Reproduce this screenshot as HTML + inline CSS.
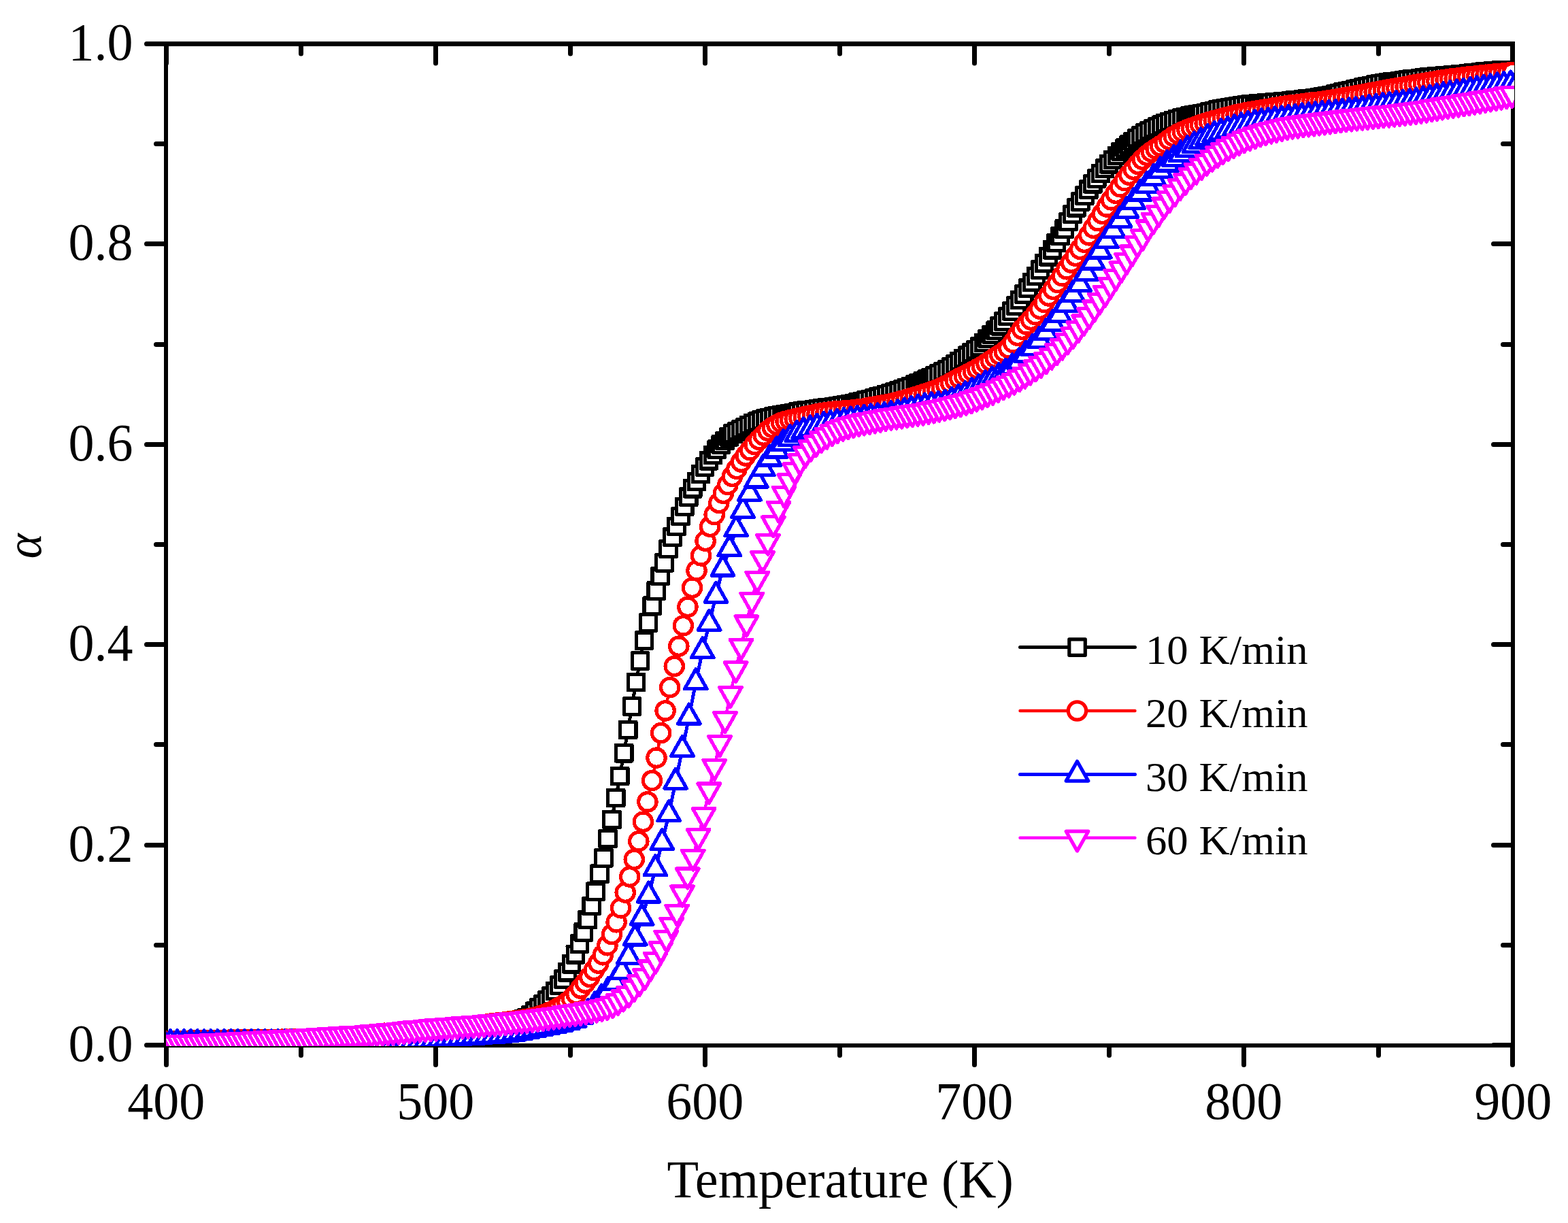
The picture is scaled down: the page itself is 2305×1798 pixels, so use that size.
<!DOCTYPE html>
<html lang="en"><head><meta charset="utf-8"><title>Conversion α versus Temperature (K)</title>
<style>html,body{margin:0;padding:0;background:#fff}body{width:2305px;height:1798px;overflow:hidden}svg{display:block}text{font-family:"Liberation Serif","DejaVu Serif",serif;fill:#000}</style></head><body>
<svg width="2305" height="1798" viewBox="0 0 2305 1798">
<rect width="2305" height="1798" fill="#fff"/>
<g fill="#000" shape-rendering="crispEdges">
<rect x="241" y="61" width="1986" height="7"/>
<rect x="241" y="1534" width="1986" height="6"/>
<rect x="241" y="61" width="6" height="1479"/>
<rect x="2221" y="61" width="6" height="1479"/>
</g>
<g stroke="#000" stroke-width="7" stroke-linecap="round" fill="none">
<path d="M244.5 1537.5v28M244.5 64.5v28.5M442.5 1537.5v14M442.5 64.5v14.5M640.5 1537.5v28M640.5 64.5v28.5M838.5 1537.5v14M838.5 64.5v14.5M1036.5 1537.5v28M1036.5 64.5v28.5M1234.5 1537.5v14M1234.5 64.5v14.5M1432.5 1537.5v28M1432.5 64.5v28.5M1630.5 1537.5v14M1630.5 64.5v14.5M1828.5 1537.5v28M1828.5 64.5v28.5M2026.5 1537.5v14M2026.5 64.5v14.5M2223.5 1537.5v28M2223.5 64.5v28.5M243.5 1536.5h-28M2223.5 1536.5h-28M243.5 1389.5h-14M2223.5 1389.5h-14M243.5 1242.5h-28M2223.5 1242.5h-28M243.5 1094.5h-14M2223.5 1094.5h-14M243.5 947.5h-28M2223.5 947.5h-28M243.5 800.5h-14M2223.5 800.5h-14M243.5 653.5h-28M2223.5 653.5h-28M243.5 506.5h-14M2223.5 506.5h-14M243.5 358.5h-28M2223.5 358.5h-28M243.5 211.5h-14M2223.5 211.5h-14M243.5 64.5h-28M2223.5 64.5h-28"/>
</g>
<svg x="244" y="62" width="1982" height="1476" viewBox="244 62 1982 1476" overflow="hidden" shape-rendering="crispEdges">
<g stroke="#000000" stroke-width="5.2" stroke-linejoin="round" fill="#fff">
<polyline fill="none" stroke-width="5" points="222.2,1536.1 228.1,1536 234.1,1535.9 240,1535.9 245.9,1535.8 251.9,1535.7 257.8,1535.6 263.8,1535.5 269.7,1535.4 275.6,1535.2 281.6,1535.1 287.5,1535 293.5,1534.9 299.4,1534.7 305.3,1534.6 311.3,1534.5 317.2,1534.3 323.2,1534.2 329.1,1534 335,1533.9 341,1533.7 346.9,1533.5 352.9,1533.4 358.8,1533.2 364.7,1533 370.7,1532.9 376.6,1532.7 382.6,1532.5 388.5,1532.3 394.4,1532.2 400.4,1532 406.3,1531.8 412.3,1531.6 418.2,1531.4 424.1,1531.2 430.1,1531 436,1530.8 442,1530.6 447.9,1530.4 453.8,1530.2 459.8,1530 465.7,1529.8 471.7,1529.5 477.6,1529.3 483.5,1529 489.5,1528.8 495.4,1528.5 501.4,1528.3 507.3,1528 513.2,1527.7 519.2,1527.4 525.1,1527.1 531.1,1526.7 537,1526.4 542.9,1526.1 548.9,1525.7 554.8,1525.3 560.8,1524.9 566.7,1524.5 572.6,1524 578.6,1523.4 584.5,1522.8 590.5,1522.1 596.4,1521.4 602.3,1520.6 608.3,1519.9 614.2,1519.1 620.2,1518.4 626.1,1517.6 632,1516.9 638,1516.2 643.9,1515.6 649.9,1515 655.8,1514.5 661.7,1514 667.7,1513.6 673.6,1513.1 679.6,1512.7 685.5,1512.3 691.4,1511.8 697.4,1511.3 703.3,1510.7 709.3,1510.1 715.2,1509.4 721.1,1508.7 727.1,1507.9 733,1507.1 739,1506.2 744.9,1505.1 750.8,1503.8 756.8,1502.4 762.7,1500.7 768.7,1498.7 774.6,1496.1 780.5,1492.1 786.5,1486.8 792.4,1481.5 798.4,1476 804.3,1470.4 810.2,1464.2 816.2,1456.9 822.1,1448.5 828.1,1439.4 834,1429.3 839.9,1417.2 845.9,1403.2 851.8,1387.7 857.8,1370.3 863.7,1352 869.6,1331.9 875.6,1310.7 881.5,1284.7 887.5,1261.3 893.4,1232.9 899.3,1205 905.3,1173 911.2,1141 917.2,1107.1 923.1,1072.9 929,1038.3 935,1002.9 940.9,971.5 946.9,941.7 952.8,915.4 958.7,890.5 964.7,868.6 970.6,846.9 976.6,827.3 982.5,806.9 988.4,789.6 994.4,773.8 1000.3,759 1006.3,744.8 1012.2,730.7 1018.1,718.3 1024.1,707.8 1030,697.1 1036,686.4 1041.9,677.2 1047.8,669 1053.8,660.7 1059.7,653.5 1065.7,647.9 1071.6,642.3 1077.5,637.5 1083.5,634.2 1089.4,631.3 1095.4,628 1101.3,624.8 1107.2,622.1 1113.2,619.7 1119.1,617.6 1125.1,615.7 1131,614 1136.9,612.6 1142.9,611.4 1148.8,610.2 1154.8,609.1 1160.7,607.9 1166.6,606.8 1172.6,605.7 1178.5,604.7 1184.5,603.8 1190.4,602.9 1196.3,602.1 1202.3,601.4 1208.2,600.6 1214.2,599.8 1220.1,598.9 1226,598.1 1232,597.2 1237.9,596.3 1243.9,595.3 1249.8,594.1 1255.7,592.8 1261.7,591.5 1267.6,590 1273.6,588.5 1279.5,587 1285.4,585.4 1291.4,583.7 1297.3,581.9 1303.3,580.2 1309.2,578.5 1315.1,576.7 1321.1,574.8 1327,572.7 1333,570.4 1338.9,568 1344.8,565.5 1350.8,563 1356.7,560.3 1362.7,557.6 1368.6,554.8 1374.5,552 1380.5,549.2 1386.4,546.3 1392.4,543.1 1398.3,539.4 1404.2,535.3 1410.2,531.1 1416.1,526.8 1422.1,522.8 1428,518.7 1433.9,514.4 1439.9,509.7 1445.8,504 1451.8,497.9 1457.7,491.9 1463.6,485.6 1469.6,479.2 1475.5,472.4 1481.5,465 1487.4,457.3 1493.3,449.4 1499.3,441.1 1505.2,432.4 1511.2,423.6 1517.1,415.1 1523,406.1 1529,396.5 1534.9,386.8 1540.9,377.1 1546.8,367.2 1552.7,357 1558.7,346.8 1564.6,336.6 1570.6,326.1 1576.5,315.1 1582.4,305.2 1588.4,296.4 1594.3,287.6 1600.3,278.6 1606.2,270.2 1612.1,262.4 1618.1,255 1624,247.7 1630,241.1 1635.9,235 1641.8,229 1647.8,222.9 1653.7,217.5 1659.7,212.8 1665.6,208.1 1671.5,203.2 1677.5,199 1683.4,195.5 1689.4,192.2 1695.3,189.3 1701.2,186.5 1707.2,183.7 1713.1,181.1 1719.1,178.9 1725,176.9 1730.9,175.1 1736.9,173.5 1742.8,172 1748.8,170.7 1754.7,169.5 1760.6,168.3 1766.6,167.2 1772.5,165.9 1778.5,164.5 1784.4,162.9 1790.3,161.5 1796.3,160.1 1802.2,159 1808.2,158 1814.1,157 1820,156.1 1826,155.3 1831.9,154.5 1837.9,153.8 1843.8,153.1 1849.7,152.4 1855.7,151.9 1861.6,151.3 1867.6,150.8 1873.5,150.4 1879.4,149.9 1885.4,149.4 1891.3,148.9 1897.3,148.3 1903.2,147.7 1909.1,147.1 1915.1,146.4 1921,145.7 1927,145 1932.9,144.3 1938.8,143.4 1944.8,142.4 1950.7,141.3 1956.7,140 1962.6,138.6 1968.5,137.2 1974.5,135.7 1980.4,134.2 1986.4,132.8 1992.3,131.4 1998.2,130 2004.2,128.6 2010.1,127.2 2016.1,125.8 2022,124.6 2027.9,123.5 2033.9,122.5 2039.8,121.6 2045.8,120.8 2051.7,119.9 2057.6,119.1 2063.6,118.3 2069.5,117.5 2075.5,116.7 2081.4,115.9 2087.3,115.1 2093.3,114.4 2099.2,113.7 2105.2,113.1 2111.1,112.5 2117,111.9 2123,111.4 2128.9,110.9 2134.9,110.4 2140.8,109.9 2146.7,109.4 2152.7,108.9 2158.6,108.3 2164.6,107.6 2170.5,106.9 2176.4,106.3 2182.4,105.6 2188.3,105 2194.3,104.5 2200.2,104 2206.1,103.7 2212.1,103.4 2218,103.1 2224,102.8"/>
<rect x="210.4" y="1524.3" width="23.5" height="23.5"/>
<rect x="216.4" y="1524.3" width="23.5" height="23.5"/>
<rect x="222.3" y="1524.2" width="23.5" height="23.5"/>
<rect x="228.2" y="1524.1" width="23.5" height="23.5"/>
<rect x="234.2" y="1524" width="23.5" height="23.5"/>
<rect x="240.1" y="1523.9" width="23.5" height="23.5"/>
<rect x="246.1" y="1523.8" width="23.5" height="23.5"/>
<rect x="252" y="1523.7" width="23.5" height="23.5"/>
<rect x="258" y="1523.6" width="23.5" height="23.5"/>
<rect x="263.9" y="1523.5" width="23.5" height="23.5"/>
<rect x="269.8" y="1523.4" width="23.5" height="23.5"/>
<rect x="275.8" y="1523.3" width="23.5" height="23.5"/>
<rect x="281.7" y="1523.1" width="23.5" height="23.5"/>
<rect x="287.6" y="1523" width="23.5" height="23.5"/>
<rect x="293.6" y="1522.9" width="23.5" height="23.5"/>
<rect x="299.5" y="1522.7" width="23.5" height="23.5"/>
<rect x="305.5" y="1522.6" width="23.5" height="23.5"/>
<rect x="311.4" y="1522.4" width="23.5" height="23.5"/>
<rect x="317.4" y="1522.3" width="23.5" height="23.5"/>
<rect x="323.3" y="1522.1" width="23.5" height="23.5"/>
<rect x="329.2" y="1522" width="23.5" height="23.5"/>
<rect x="335.2" y="1521.8" width="23.5" height="23.5"/>
<rect x="341.1" y="1521.6" width="23.5" height="23.5"/>
<rect x="347.1" y="1521.5" width="23.5" height="23.5"/>
<rect x="353" y="1521.3" width="23.5" height="23.5"/>
<rect x="358.9" y="1521.1" width="23.5" height="23.5"/>
<rect x="364.9" y="1521" width="23.5" height="23.5"/>
<rect x="370.8" y="1520.8" width="23.5" height="23.5"/>
<rect x="376.8" y="1520.6" width="23.5" height="23.5"/>
<rect x="382.7" y="1520.4" width="23.5" height="23.5"/>
<rect x="388.6" y="1520.2" width="23.5" height="23.5"/>
<rect x="394.6" y="1520.1" width="23.5" height="23.5"/>
<rect x="400.5" y="1519.9" width="23.5" height="23.5"/>
<rect x="406.4" y="1519.7" width="23.5" height="23.5"/>
<rect x="412.4" y="1519.5" width="23.5" height="23.5"/>
<rect x="418.3" y="1519.3" width="23.5" height="23.5"/>
<rect x="424.3" y="1519.1" width="23.5" height="23.5"/>
<rect x="430.2" y="1518.9" width="23.5" height="23.5"/>
<rect x="436.2" y="1518.7" width="23.5" height="23.5"/>
<rect x="442.1" y="1518.5" width="23.5" height="23.5"/>
<rect x="448" y="1518.2" width="23.5" height="23.5"/>
<rect x="454" y="1518" width="23.5" height="23.5"/>
<rect x="459.9" y="1517.8" width="23.5" height="23.5"/>
<rect x="465.9" y="1517.5" width="23.5" height="23.5"/>
<rect x="471.8" y="1517.3" width="23.5" height="23.5"/>
<rect x="477.7" y="1517" width="23.5" height="23.5"/>
<rect x="483.7" y="1516.8" width="23.5" height="23.5"/>
<rect x="489.6" y="1516.5" width="23.5" height="23.5"/>
<rect x="495.6" y="1516.2" width="23.5" height="23.5"/>
<rect x="501.5" y="1515.9" width="23.5" height="23.5"/>
<rect x="507.4" y="1515.6" width="23.5" height="23.5"/>
<rect x="513.4" y="1515.3" width="23.5" height="23.5"/>
<rect x="519.3" y="1515" width="23.5" height="23.5"/>
<rect x="525.2" y="1514.7" width="23.5" height="23.5"/>
<rect x="531.2" y="1514.3" width="23.5" height="23.5"/>
<rect x="537.1" y="1514" width="23.5" height="23.5"/>
<rect x="543.1" y="1513.6" width="23.5" height="23.5"/>
<rect x="549" y="1513.2" width="23.5" height="23.5"/>
<rect x="555" y="1512.8" width="23.5" height="23.5"/>
<rect x="560.9" y="1512.2" width="23.5" height="23.5"/>
<rect x="566.8" y="1511.7" width="23.5" height="23.5"/>
<rect x="572.8" y="1511" width="23.5" height="23.5"/>
<rect x="578.7" y="1510.3" width="23.5" height="23.5"/>
<rect x="584.7" y="1509.6" width="23.5" height="23.5"/>
<rect x="590.6" y="1508.9" width="23.5" height="23.5"/>
<rect x="596.5" y="1508.1" width="23.5" height="23.5"/>
<rect x="602.5" y="1507.4" width="23.5" height="23.5"/>
<rect x="608.4" y="1506.6" width="23.5" height="23.5"/>
<rect x="614.4" y="1505.9" width="23.5" height="23.5"/>
<rect x="620.3" y="1505.2" width="23.5" height="23.5"/>
<rect x="626.2" y="1504.5" width="23.5" height="23.5"/>
<rect x="632.2" y="1503.8" width="23.5" height="23.5"/>
<rect x="638.1" y="1503.3" width="23.5" height="23.5"/>
<rect x="644.1" y="1502.7" width="23.5" height="23.5"/>
<rect x="650" y="1502.3" width="23.5" height="23.5"/>
<rect x="655.9" y="1501.8" width="23.5" height="23.5"/>
<rect x="661.9" y="1501.4" width="23.5" height="23.5"/>
<rect x="667.8" y="1501" width="23.5" height="23.5"/>
<rect x="673.8" y="1500.5" width="23.5" height="23.5"/>
<rect x="679.7" y="1500" width="23.5" height="23.5"/>
<rect x="685.6" y="1499.5" width="23.5" height="23.5"/>
<rect x="691.6" y="1498.9" width="23.5" height="23.5"/>
<rect x="697.5" y="1498.3" width="23.5" height="23.5"/>
<rect x="703.5" y="1497.7" width="23.5" height="23.5"/>
<rect x="709.4" y="1497" width="23.5" height="23.5"/>
<rect x="715.3" y="1496.2" width="23.5" height="23.5"/>
<rect x="721.3" y="1495.4" width="23.5" height="23.5"/>
<rect x="727.2" y="1494.4" width="23.5" height="23.5"/>
<rect x="733.2" y="1493.4" width="23.5" height="23.5"/>
<rect x="739.1" y="1492.1" width="23.5" height="23.5"/>
<rect x="745" y="1490.6" width="23.5" height="23.5"/>
<rect x="751" y="1489" width="23.5" height="23.5"/>
<rect x="756.9" y="1487" width="23.5" height="23.5"/>
<rect x="762.9" y="1484.4" width="23.5" height="23.5"/>
<rect x="768.8" y="1480.3" width="23.5" height="23.5"/>
<rect x="774.7" y="1475" width="23.5" height="23.5"/>
<rect x="780.7" y="1469.8" width="23.5" height="23.5"/>
<rect x="786.6" y="1464.3" width="23.5" height="23.5"/>
<rect x="792.6" y="1458.6" width="23.5" height="23.5"/>
<rect x="798.5" y="1452.5" width="23.5" height="23.5"/>
<rect x="804.4" y="1445.1" width="23.5" height="23.5"/>
<rect x="810.4" y="1436.7" width="23.5" height="23.5"/>
<rect x="816.3" y="1427.7" width="23.5" height="23.5"/>
<rect x="822.2" y="1417.5" width="23.5" height="23.5"/>
<rect x="828.2" y="1405.4" width="23.5" height="23.5"/>
<rect x="834.1" y="1391.5" width="23.5" height="23.5"/>
<rect x="840.1" y="1375.9" width="23.5" height="23.5"/>
<rect x="846" y="1358.6" width="23.5" height="23.5"/>
<rect x="852" y="1340.2" width="23.5" height="23.5"/>
<rect x="857.9" y="1320.1" width="23.5" height="23.5"/>
<rect x="863.8" y="1298.9" width="23.5" height="23.5"/>
<rect x="869.8" y="1272.9" width="23.5" height="23.5"/>
<rect x="875.7" y="1249.6" width="23.5" height="23.5"/>
<rect x="881.7" y="1221.1" width="23.5" height="23.5"/>
<rect x="887.6" y="1193.2" width="23.5" height="23.5"/>
<rect x="893.5" y="1161.3" width="23.5" height="23.5"/>
<rect x="899.5" y="1129.2" width="23.5" height="23.5"/>
<rect x="905.4" y="1095.4" width="23.5" height="23.5"/>
<rect x="911.4" y="1061.1" width="23.5" height="23.5"/>
<rect x="917.3" y="1026.6" width="23.5" height="23.5"/>
<rect x="923.2" y="991.1" width="23.5" height="23.5"/>
<rect x="929.2" y="959.7" width="23.5" height="23.5"/>
<rect x="935.1" y="930" width="23.5" height="23.5"/>
<rect x="941.1" y="903.7" width="23.5" height="23.5"/>
<rect x="947" y="878.8" width="23.5" height="23.5"/>
<rect x="952.9" y="856.8" width="23.5" height="23.5"/>
<rect x="958.9" y="835.2" width="23.5" height="23.5"/>
<rect x="964.8" y="815.6" width="23.5" height="23.5"/>
<rect x="970.8" y="795.2" width="23.5" height="23.5"/>
<rect x="976.7" y="777.9" width="23.5" height="23.5"/>
<rect x="982.6" y="762.1" width="23.5" height="23.5"/>
<rect x="988.6" y="747.3" width="23.5" height="23.5"/>
<rect x="994.5" y="733.1" width="23.5" height="23.5"/>
<rect x="1000.5" y="718.9" width="23.5" height="23.5"/>
<rect x="1006.4" y="706.5" width="23.5" height="23.5"/>
<rect x="1012.3" y="696.1" width="23.5" height="23.5"/>
<rect x="1018.3" y="685.3" width="23.5" height="23.5"/>
<rect x="1024.2" y="674.7" width="23.5" height="23.5"/>
<rect x="1030.2" y="665.5" width="23.5" height="23.5"/>
<rect x="1036.1" y="657.2" width="23.5" height="23.5"/>
<rect x="1042" y="649" width="23.5" height="23.5"/>
<rect x="1048" y="641.7" width="23.5" height="23.5"/>
<rect x="1053.9" y="636.1" width="23.5" height="23.5"/>
<rect x="1059.9" y="630.5" width="23.5" height="23.5"/>
<rect x="1065.8" y="625.7" width="23.5" height="23.5"/>
<rect x="1071.7" y="622.4" width="23.5" height="23.5"/>
<rect x="1077.7" y="619.5" width="23.5" height="23.5"/>
<rect x="1083.6" y="616.3" width="23.5" height="23.5"/>
<rect x="1089.6" y="613.1" width="23.5" height="23.5"/>
<rect x="1095.5" y="610.3" width="23.5" height="23.5"/>
<rect x="1101.4" y="608" width="23.5" height="23.5"/>
<rect x="1107.4" y="605.8" width="23.5" height="23.5"/>
<rect x="1113.3" y="603.9" width="23.5" height="23.5"/>
<rect x="1119.2" y="602.3" width="23.5" height="23.5"/>
<rect x="1125.2" y="600.9" width="23.5" height="23.5"/>
<rect x="1131.1" y="599.6" width="23.5" height="23.5"/>
<rect x="1137.1" y="598.4" width="23.5" height="23.5"/>
<rect x="1143" y="597.3" width="23.5" height="23.5"/>
<rect x="1149" y="596.2" width="23.5" height="23.5"/>
<rect x="1154.9" y="595.1" width="23.5" height="23.5"/>
<rect x="1160.8" y="594" width="23.5" height="23.5"/>
<rect x="1166.8" y="593" width="23.5" height="23.5"/>
<rect x="1172.7" y="592" width="23.5" height="23.5"/>
<rect x="1178.7" y="591.2" width="23.5" height="23.5"/>
<rect x="1184.6" y="590.4" width="23.5" height="23.5"/>
<rect x="1190.5" y="589.6" width="23.5" height="23.5"/>
<rect x="1196.5" y="588.8" width="23.5" height="23.5"/>
<rect x="1202.4" y="588" width="23.5" height="23.5"/>
<rect x="1208.4" y="587.2" width="23.5" height="23.5"/>
<rect x="1214.3" y="586.3" width="23.5" height="23.5"/>
<rect x="1220.2" y="585.5" width="23.5" height="23.5"/>
<rect x="1226.2" y="584.6" width="23.5" height="23.5"/>
<rect x="1232.1" y="583.5" width="23.5" height="23.5"/>
<rect x="1238.1" y="582.4" width="23.5" height="23.5"/>
<rect x="1244" y="581.1" width="23.5" height="23.5"/>
<rect x="1249.9" y="579.7" width="23.5" height="23.5"/>
<rect x="1255.9" y="578.3" width="23.5" height="23.5"/>
<rect x="1261.8" y="576.8" width="23.5" height="23.5"/>
<rect x="1267.8" y="575.2" width="23.5" height="23.5"/>
<rect x="1273.7" y="573.6" width="23.5" height="23.5"/>
<rect x="1279.6" y="571.9" width="23.5" height="23.5"/>
<rect x="1285.6" y="570.2" width="23.5" height="23.5"/>
<rect x="1291.5" y="568.4" width="23.5" height="23.5"/>
<rect x="1297.5" y="566.7" width="23.5" height="23.5"/>
<rect x="1303.4" y="564.9" width="23.5" height="23.5"/>
<rect x="1309.3" y="563" width="23.5" height="23.5"/>
<rect x="1315.3" y="560.9" width="23.5" height="23.5"/>
<rect x="1321.2" y="558.6" width="23.5" height="23.5"/>
<rect x="1327.2" y="556.2" width="23.5" height="23.5"/>
<rect x="1333.1" y="553.7" width="23.5" height="23.5"/>
<rect x="1339" y="551.2" width="23.5" height="23.5"/>
<rect x="1345" y="548.6" width="23.5" height="23.5"/>
<rect x="1350.9" y="545.9" width="23.5" height="23.5"/>
<rect x="1356.9" y="543.1" width="23.5" height="23.5"/>
<rect x="1362.8" y="540.3" width="23.5" height="23.5"/>
<rect x="1368.7" y="537.5" width="23.5" height="23.5"/>
<rect x="1374.7" y="534.5" width="23.5" height="23.5"/>
<rect x="1380.6" y="531.3" width="23.5" height="23.5"/>
<rect x="1386.6" y="527.7" width="23.5" height="23.5"/>
<rect x="1392.5" y="523.6" width="23.5" height="23.5"/>
<rect x="1398.4" y="519.3" width="23.5" height="23.5"/>
<rect x="1404.4" y="515.1" width="23.5" height="23.5"/>
<rect x="1410.3" y="511" width="23.5" height="23.5"/>
<rect x="1416.2" y="507" width="23.5" height="23.5"/>
<rect x="1422.2" y="502.7" width="23.5" height="23.5"/>
<rect x="1428.1" y="497.9" width="23.5" height="23.5"/>
<rect x="1434.1" y="492.2" width="23.5" height="23.5"/>
<rect x="1440" y="486.2" width="23.5" height="23.5"/>
<rect x="1446" y="480.1" width="23.5" height="23.5"/>
<rect x="1451.9" y="473.9" width="23.5" height="23.5"/>
<rect x="1457.8" y="467.4" width="23.5" height="23.5"/>
<rect x="1463.8" y="460.7" width="23.5" height="23.5"/>
<rect x="1469.7" y="453.3" width="23.5" height="23.5"/>
<rect x="1475.7" y="445.6" width="23.5" height="23.5"/>
<rect x="1481.6" y="437.6" width="23.5" height="23.5"/>
<rect x="1487.5" y="429.3" width="23.5" height="23.5"/>
<rect x="1493.5" y="420.6" width="23.5" height="23.5"/>
<rect x="1499.4" y="411.9" width="23.5" height="23.5"/>
<rect x="1505.4" y="403.3" width="23.5" height="23.5"/>
<rect x="1511.3" y="394.3" width="23.5" height="23.5"/>
<rect x="1517.2" y="384.8" width="23.5" height="23.5"/>
<rect x="1523.2" y="375.1" width="23.5" height="23.5"/>
<rect x="1529.1" y="365.4" width="23.5" height="23.5"/>
<rect x="1535.1" y="355.4" width="23.5" height="23.5"/>
<rect x="1541" y="345.3" width="23.5" height="23.5"/>
<rect x="1546.9" y="335.1" width="23.5" height="23.5"/>
<rect x="1552.9" y="324.8" width="23.5" height="23.5"/>
<rect x="1558.8" y="314.3" width="23.5" height="23.5"/>
<rect x="1564.8" y="303.3" width="23.5" height="23.5"/>
<rect x="1570.7" y="293.5" width="23.5" height="23.5"/>
<rect x="1576.6" y="284.7" width="23.5" height="23.5"/>
<rect x="1582.6" y="275.8" width="23.5" height="23.5"/>
<rect x="1588.5" y="266.9" width="23.5" height="23.5"/>
<rect x="1594.5" y="258.5" width="23.5" height="23.5"/>
<rect x="1600.4" y="250.7" width="23.5" height="23.5"/>
<rect x="1606.3" y="243.2" width="23.5" height="23.5"/>
<rect x="1612.3" y="236" width="23.5" height="23.5"/>
<rect x="1618.2" y="229.4" width="23.5" height="23.5"/>
<rect x="1624.2" y="223.3" width="23.5" height="23.5"/>
<rect x="1630.1" y="217.3" width="23.5" height="23.5"/>
<rect x="1636" y="211.2" width="23.5" height="23.5"/>
<rect x="1642" y="205.8" width="23.5" height="23.5"/>
<rect x="1647.9" y="201" width="23.5" height="23.5"/>
<rect x="1653.9" y="196.3" width="23.5" height="23.5"/>
<rect x="1659.8" y="191.4" width="23.5" height="23.5"/>
<rect x="1665.7" y="187.2" width="23.5" height="23.5"/>
<rect x="1671.7" y="183.7" width="23.5" height="23.5"/>
<rect x="1677.6" y="180.5" width="23.5" height="23.5"/>
<rect x="1683.6" y="177.5" width="23.5" height="23.5"/>
<rect x="1689.5" y="174.7" width="23.5" height="23.5"/>
<rect x="1695.4" y="172" width="23.5" height="23.5"/>
<rect x="1701.4" y="169.4" width="23.5" height="23.5"/>
<rect x="1707.3" y="167.2" width="23.5" height="23.5"/>
<rect x="1713.2" y="165.2" width="23.5" height="23.5"/>
<rect x="1719.2" y="163.3" width="23.5" height="23.5"/>
<rect x="1725.1" y="161.7" width="23.5" height="23.5"/>
<rect x="1731.1" y="160.2" width="23.5" height="23.5"/>
<rect x="1737" y="158.9" width="23.5" height="23.5"/>
<rect x="1743" y="157.7" width="23.5" height="23.5"/>
<rect x="1748.9" y="156.6" width="23.5" height="23.5"/>
<rect x="1754.8" y="155.4" width="23.5" height="23.5"/>
<rect x="1760.8" y="154.1" width="23.5" height="23.5"/>
<rect x="1766.7" y="152.7" width="23.5" height="23.5"/>
<rect x="1772.7" y="151.2" width="23.5" height="23.5"/>
<rect x="1778.6" y="149.7" width="23.5" height="23.5"/>
<rect x="1784.5" y="148.4" width="23.5" height="23.5"/>
<rect x="1790.5" y="147.3" width="23.5" height="23.5"/>
<rect x="1796.4" y="146.2" width="23.5" height="23.5"/>
<rect x="1802.4" y="145.3" width="23.5" height="23.5"/>
<rect x="1808.3" y="144.4" width="23.5" height="23.5"/>
<rect x="1814.2" y="143.5" width="23.5" height="23.5"/>
<rect x="1820.2" y="142.7" width="23.5" height="23.5"/>
<rect x="1826.1" y="142" width="23.5" height="23.5"/>
<rect x="1832.1" y="141.3" width="23.5" height="23.5"/>
<rect x="1838" y="140.7" width="23.5" height="23.5"/>
<rect x="1843.9" y="140.1" width="23.5" height="23.5"/>
<rect x="1849.9" y="139.6" width="23.5" height="23.5"/>
<rect x="1855.8" y="139.1" width="23.5" height="23.5"/>
<rect x="1861.8" y="138.6" width="23.5" height="23.5"/>
<rect x="1867.7" y="138.1" width="23.5" height="23.5"/>
<rect x="1873.6" y="137.6" width="23.5" height="23.5"/>
<rect x="1879.6" y="137.1" width="23.5" height="23.5"/>
<rect x="1885.5" y="136.5" width="23.5" height="23.5"/>
<rect x="1891.5" y="135.9" width="23.5" height="23.5"/>
<rect x="1897.4" y="135.3" width="23.5" height="23.5"/>
<rect x="1903.3" y="134.7" width="23.5" height="23.5"/>
<rect x="1909.3" y="134" width="23.5" height="23.5"/>
<rect x="1915.2" y="133.3" width="23.5" height="23.5"/>
<rect x="1921.2" y="132.5" width="23.5" height="23.5"/>
<rect x="1927.1" y="131.7" width="23.5" height="23.5"/>
<rect x="1933" y="130.7" width="23.5" height="23.5"/>
<rect x="1939" y="129.6" width="23.5" height="23.5"/>
<rect x="1944.9" y="128.3" width="23.5" height="23.5"/>
<rect x="1950.9" y="126.9" width="23.5" height="23.5"/>
<rect x="1956.8" y="125.4" width="23.5" height="23.5"/>
<rect x="1962.7" y="123.9" width="23.5" height="23.5"/>
<rect x="1968.7" y="122.5" width="23.5" height="23.5"/>
<rect x="1974.6" y="121.1" width="23.5" height="23.5"/>
<rect x="1980.6" y="119.7" width="23.5" height="23.5"/>
<rect x="1986.5" y="118.3" width="23.5" height="23.5"/>
<rect x="1992.4" y="116.8" width="23.5" height="23.5"/>
<rect x="1998.4" y="115.4" width="23.5" height="23.5"/>
<rect x="2004.3" y="114.1" width="23.5" height="23.5"/>
<rect x="2010.3" y="112.8" width="23.5" height="23.5"/>
<rect x="2016.2" y="111.7" width="23.5" height="23.5"/>
<rect x="2022.1" y="110.8" width="23.5" height="23.5"/>
<rect x="2028.1" y="109.9" width="23.5" height="23.5"/>
<rect x="2034" y="109" width="23.5" height="23.5"/>
<rect x="2039.9" y="108.2" width="23.5" height="23.5"/>
<rect x="2045.9" y="107.4" width="23.5" height="23.5"/>
<rect x="2051.8" y="106.5" width="23.5" height="23.5"/>
<rect x="2057.8" y="105.7" width="23.5" height="23.5"/>
<rect x="2063.7" y="104.9" width="23.5" height="23.5"/>
<rect x="2069.7" y="104.1" width="23.5" height="23.5"/>
<rect x="2075.6" y="103.4" width="23.5" height="23.5"/>
<rect x="2081.5" y="102.6" width="23.5" height="23.5"/>
<rect x="2087.5" y="102" width="23.5" height="23.5"/>
<rect x="2093.4" y="101.3" width="23.5" height="23.5"/>
<rect x="2099.4" y="100.7" width="23.5" height="23.5"/>
<rect x="2105.3" y="100.2" width="23.5" height="23.5"/>
<rect x="2111.2" y="99.7" width="23.5" height="23.5"/>
<rect x="2117.2" y="99.2" width="23.5" height="23.5"/>
<rect x="2123.1" y="98.7" width="23.5" height="23.5"/>
<rect x="2129.1" y="98.2" width="23.5" height="23.5"/>
<rect x="2135" y="97.7" width="23.5" height="23.5"/>
<rect x="2140.9" y="97.1" width="23.5" height="23.5"/>
<rect x="2146.9" y="96.5" width="23.5" height="23.5"/>
<rect x="2152.8" y="95.9" width="23.5" height="23.5"/>
<rect x="2158.8" y="95.2" width="23.5" height="23.5"/>
<rect x="2164.7" y="94.5" width="23.5" height="23.5"/>
<rect x="2170.6" y="93.8" width="23.5" height="23.5"/>
<rect x="2176.6" y="93.2" width="23.5" height="23.5"/>
<rect x="2182.5" y="92.7" width="23.5" height="23.5"/>
<rect x="2188.4" y="92.3" width="23.5" height="23.5"/>
<rect x="2194.4" y="91.9" width="23.5" height="23.5"/>
<rect x="2200.3" y="91.6" width="23.5" height="23.5"/>
<rect x="2206.3" y="91.4" width="23.5" height="23.5"/>
<rect x="2212.2" y="91.1" width="23.5" height="23.5"/>
</g>
<g stroke="#ff0000" stroke-width="5.2" stroke-linejoin="round" fill="#fff">
<polyline fill="none" stroke-width="4.4" points="224.4,1532.3 231,1531.9 237.5,1531.5 244.1,1531.1 250.7,1530.9 257.2,1530.7 263.8,1530.5 270.3,1530.3 276.9,1530.2 283.4,1530 290,1529.9 296.5,1529.8 303.1,1529.7 309.6,1529.5 316.2,1529.5 322.7,1529.4 329.3,1529.3 335.9,1529.2 342.4,1529.1 349,1529 355.5,1529 362.1,1528.9 368.6,1528.8 375.2,1528.7 381.7,1528.7 388.3,1528.6 394.8,1528.5 401.4,1528.4 407.9,1528.3 414.5,1528.2 421.1,1528.1 427.6,1528 434.2,1527.9 440.7,1527.7 447.3,1527.6 453.8,1527.4 460.4,1527.2 466.9,1527.1 473.5,1526.8 480,1526.6 486.6,1526.3 493.2,1525.9 499.7,1525.4 506.3,1524.9 512.8,1524.3 519.4,1523.7 525.9,1523 532.5,1522.4 539,1521.7 545.6,1521.1 552.1,1520.4 558.7,1519.8 565.2,1519.2 571.8,1518.7 578.4,1518.2 584.9,1517.7 591.5,1517.2 598,1516.7 604.6,1516.3 611.1,1515.8 617.7,1515.3 624.2,1514.8 630.8,1514.4 637.3,1513.9 643.9,1513.4 650.4,1512.9 657,1512.4 663.6,1511.8 670.1,1511.3 676.7,1510.7 683.2,1510 689.8,1509.4 696.3,1508.7 702.9,1507.9 709.4,1507 716,1506 722.5,1505 729.1,1504.2 735.6,1503.4 742.2,1502.6 748.8,1501.9 755.3,1501.1 761.9,1500.2 768.4,1499.2 775,1498.2 781.5,1496.9 788.1,1495.3 794.6,1493.4 801.2,1491.2 807.7,1488.2 814.3,1485.5 820.9,1481.8 827.4,1478.2 834,1473.6 840.5,1468.1 847.1,1461.4 853.6,1453 860.2,1445 866.7,1436.4 873.3,1426.5 879.8,1416.2 886.4,1403.8 892.9,1389.8 899.5,1373.6 906.1,1355.8 912.6,1334.8 919.2,1312.1 925.7,1289 932.3,1263.5 938.8,1236.7 945.4,1208.2 951.9,1178.9 958.5,1147.5 965,1114.1 971.6,1077.6 978.1,1044.9 984.7,1010.6 991.3,979.5 997.8,950.1 1004.4,919.8 1010.9,892.3 1017.5,864.2 1024,838.9 1030.6,816.9 1037.1,795.3 1043.7,774.3 1050.2,756.7 1056.8,739.5 1063.3,725.4 1069.9,712.6 1076.5,700.4 1083,689.4 1089.6,679 1096.1,670 1102.7,661.8 1109.2,653.6 1115.8,646.5 1122.3,640 1128.9,633.3 1135.4,628.5 1142,624.5 1148.6,621.4 1155.1,619.2 1161.7,617.5 1168.2,616 1174.8,614.5 1181.3,613 1187.9,611.6 1194.4,610.2 1201,608.8 1207.5,607.4 1214.1,606.3 1220.6,605.6 1227.2,605 1233.8,604.5 1240.3,603.9 1246.9,603.3 1253.4,602.8 1260,602.1 1266.5,601.3 1273.1,600.2 1279.6,599 1286.2,597.9 1292.7,596.7 1299.3,595.5 1305.8,594.2 1312.4,592.8 1319,591.1 1325.5,589.4 1332.1,587.5 1338.6,585.6 1345.2,583.7 1351.7,581.7 1358.3,579.5 1364.8,577.4 1371.4,575.1 1377.9,572.7 1384.5,570 1391,566.8 1397.6,563.1 1404.2,559.4 1410.7,556 1417.3,552.8 1423.8,549.5 1430.4,546 1436.9,542.4 1443.5,538.7 1450,534.7 1456.6,530.5 1463.1,526 1469.7,521.6 1476.3,517.1 1482.8,511.7 1489.4,503.7 1495.9,493.3 1502.5,484.2 1509,477 1515.6,470.2 1522.1,462.7 1528.7,454.1 1535.2,444.7 1541.8,435 1548.3,425.4 1554.9,415.6 1561.5,405.7 1568,395.8 1574.6,386 1581.1,376.3 1587.7,366.4 1594.2,356.3 1600.8,345.8 1607.3,335.2 1613.9,324.7 1620.4,314.4 1627,304 1633.5,293.9 1640.1,284.2 1646.7,274.8 1653.2,265.7 1659.8,257.1 1666.3,249.1 1672.9,241.4 1679.4,234.3 1686,228.3 1692.5,223.3 1699.1,218.9 1705.6,214.6 1712.2,210.1 1718.8,205.2 1725.3,200.6 1731.9,196.8 1738.4,193.7 1745,190.9 1751.5,188.4 1758.1,185.9 1764.6,183.6 1771.2,181.4 1777.7,179.4 1784.3,177.5 1790.8,175.7 1797.4,173.9 1804,172.2 1810.5,170.5 1817.1,168.8 1823.6,167.3 1830.2,166 1836.7,164.8 1843.3,163.7 1849.8,162.6 1856.4,161.5 1862.9,160.3 1869.5,159.2 1876,158.2 1882.6,157.1 1889.2,156.1 1895.7,155.1 1902.3,154.3 1908.8,153.5 1915.4,152.7 1921.9,151.9 1928.5,151.1 1935,150.3 1941.6,149.4 1948.1,148.4 1954.7,147.4 1961.2,146.3 1967.8,145.2 1974.4,144.1 1980.9,143 1987.5,141.8 1994,140.6 2000.6,139.4 2007.1,138.2 2013.7,137 2020.2,135.7 2026.8,134.5 2033.3,133.2 2039.9,132 2046.5,130.8 2053,129.7 2059.6,128.5 2066.1,127.3 2072.7,126.1 2079.2,125 2085.8,123.8 2092.3,122.7 2098.9,121.5 2105.4,120.4 2112,119.2 2118.5,118.2 2125.1,117.2 2131.7,116.2 2138.2,115.4 2144.8,114.5 2151.3,113.8 2157.9,113 2164.4,112.3 2171,111.6 2177.5,110.9 2184.1,110.2 2190.6,109.5 2197.2,108.9 2203.7,108.3 2210.3,107.7 2216.9,107.1 2223.4,106.5"/>
<circle cx="224.4" cy="1532.3" r="13.2"/>
<circle cx="231" cy="1531.9" r="13.2"/>
<circle cx="237.5" cy="1531.5" r="13.2"/>
<circle cx="244.1" cy="1531.1" r="13.2"/>
<circle cx="250.7" cy="1530.9" r="13.2"/>
<circle cx="257.2" cy="1530.7" r="13.2"/>
<circle cx="263.8" cy="1530.5" r="13.2"/>
<circle cx="270.3" cy="1530.3" r="13.2"/>
<circle cx="276.9" cy="1530.2" r="13.2"/>
<circle cx="283.4" cy="1530" r="13.2"/>
<circle cx="290" cy="1529.9" r="13.2"/>
<circle cx="296.5" cy="1529.8" r="13.2"/>
<circle cx="303.1" cy="1529.7" r="13.2"/>
<circle cx="309.6" cy="1529.5" r="13.2"/>
<circle cx="316.2" cy="1529.5" r="13.2"/>
<circle cx="322.7" cy="1529.4" r="13.2"/>
<circle cx="329.3" cy="1529.3" r="13.2"/>
<circle cx="335.9" cy="1529.2" r="13.2"/>
<circle cx="342.4" cy="1529.1" r="13.2"/>
<circle cx="349" cy="1529" r="13.2"/>
<circle cx="355.5" cy="1529" r="13.2"/>
<circle cx="362.1" cy="1528.9" r="13.2"/>
<circle cx="368.6" cy="1528.8" r="13.2"/>
<circle cx="375.2" cy="1528.7" r="13.2"/>
<circle cx="381.7" cy="1528.7" r="13.2"/>
<circle cx="388.3" cy="1528.6" r="13.2"/>
<circle cx="394.8" cy="1528.5" r="13.2"/>
<circle cx="401.4" cy="1528.4" r="13.2"/>
<circle cx="407.9" cy="1528.3" r="13.2"/>
<circle cx="414.5" cy="1528.2" r="13.2"/>
<circle cx="421.1" cy="1528.1" r="13.2"/>
<circle cx="427.6" cy="1528" r="13.2"/>
<circle cx="434.2" cy="1527.9" r="13.2"/>
<circle cx="440.7" cy="1527.7" r="13.2"/>
<circle cx="447.3" cy="1527.6" r="13.2"/>
<circle cx="453.8" cy="1527.4" r="13.2"/>
<circle cx="460.4" cy="1527.2" r="13.2"/>
<circle cx="466.9" cy="1527.1" r="13.2"/>
<circle cx="473.5" cy="1526.8" r="13.2"/>
<circle cx="480" cy="1526.6" r="13.2"/>
<circle cx="486.6" cy="1526.3" r="13.2"/>
<circle cx="493.2" cy="1525.9" r="13.2"/>
<circle cx="499.7" cy="1525.4" r="13.2"/>
<circle cx="506.3" cy="1524.9" r="13.2"/>
<circle cx="512.8" cy="1524.3" r="13.2"/>
<circle cx="519.4" cy="1523.7" r="13.2"/>
<circle cx="525.9" cy="1523" r="13.2"/>
<circle cx="532.5" cy="1522.4" r="13.2"/>
<circle cx="539" cy="1521.7" r="13.2"/>
<circle cx="545.6" cy="1521.1" r="13.2"/>
<circle cx="552.1" cy="1520.4" r="13.2"/>
<circle cx="558.7" cy="1519.8" r="13.2"/>
<circle cx="565.2" cy="1519.2" r="13.2"/>
<circle cx="571.8" cy="1518.7" r="13.2"/>
<circle cx="578.4" cy="1518.2" r="13.2"/>
<circle cx="584.9" cy="1517.7" r="13.2"/>
<circle cx="591.5" cy="1517.2" r="13.2"/>
<circle cx="598" cy="1516.7" r="13.2"/>
<circle cx="604.6" cy="1516.3" r="13.2"/>
<circle cx="611.1" cy="1515.8" r="13.2"/>
<circle cx="617.7" cy="1515.3" r="13.2"/>
<circle cx="624.2" cy="1514.8" r="13.2"/>
<circle cx="630.8" cy="1514.4" r="13.2"/>
<circle cx="637.3" cy="1513.9" r="13.2"/>
<circle cx="643.9" cy="1513.4" r="13.2"/>
<circle cx="650.4" cy="1512.9" r="13.2"/>
<circle cx="657" cy="1512.4" r="13.2"/>
<circle cx="663.6" cy="1511.8" r="13.2"/>
<circle cx="670.1" cy="1511.3" r="13.2"/>
<circle cx="676.7" cy="1510.7" r="13.2"/>
<circle cx="683.2" cy="1510" r="13.2"/>
<circle cx="689.8" cy="1509.4" r="13.2"/>
<circle cx="696.3" cy="1508.7" r="13.2"/>
<circle cx="702.9" cy="1507.9" r="13.2"/>
<circle cx="709.4" cy="1507" r="13.2"/>
<circle cx="716" cy="1506" r="13.2"/>
<circle cx="722.5" cy="1505" r="13.2"/>
<circle cx="729.1" cy="1504.2" r="13.2"/>
<circle cx="735.6" cy="1503.4" r="13.2"/>
<circle cx="742.2" cy="1502.6" r="13.2"/>
<circle cx="748.8" cy="1501.9" r="13.2"/>
<circle cx="755.3" cy="1501.1" r="13.2"/>
<circle cx="761.9" cy="1500.2" r="13.2"/>
<circle cx="768.4" cy="1499.2" r="13.2"/>
<circle cx="775" cy="1498.2" r="13.2"/>
<circle cx="781.5" cy="1496.9" r="13.2"/>
<circle cx="788.1" cy="1495.3" r="13.2"/>
<circle cx="794.6" cy="1493.4" r="13.2"/>
<circle cx="801.2" cy="1491.2" r="13.2"/>
<circle cx="807.7" cy="1488.2" r="13.2"/>
<circle cx="814.3" cy="1485.5" r="13.2"/>
<circle cx="820.9" cy="1481.8" r="13.2"/>
<circle cx="827.4" cy="1478.2" r="13.2"/>
<circle cx="834" cy="1473.6" r="13.2"/>
<circle cx="840.5" cy="1468.1" r="13.2"/>
<circle cx="847.1" cy="1461.4" r="13.2"/>
<circle cx="853.6" cy="1453" r="13.2"/>
<circle cx="860.2" cy="1445" r="13.2"/>
<circle cx="866.7" cy="1436.4" r="13.2"/>
<circle cx="873.3" cy="1426.5" r="13.2"/>
<circle cx="879.8" cy="1416.2" r="13.2"/>
<circle cx="886.4" cy="1403.8" r="13.2"/>
<circle cx="892.9" cy="1389.8" r="13.2"/>
<circle cx="899.5" cy="1373.6" r="13.2"/>
<circle cx="906.1" cy="1355.8" r="13.2"/>
<circle cx="912.6" cy="1334.8" r="13.2"/>
<circle cx="919.2" cy="1312.1" r="13.2"/>
<circle cx="925.7" cy="1289" r="13.2"/>
<circle cx="932.3" cy="1263.5" r="13.2"/>
<circle cx="938.8" cy="1236.7" r="13.2"/>
<circle cx="945.4" cy="1208.2" r="13.2"/>
<circle cx="951.9" cy="1178.9" r="13.2"/>
<circle cx="958.5" cy="1147.5" r="13.2"/>
<circle cx="965" cy="1114.1" r="13.2"/>
<circle cx="971.6" cy="1077.6" r="13.2"/>
<circle cx="978.1" cy="1044.9" r="13.2"/>
<circle cx="984.7" cy="1010.6" r="13.2"/>
<circle cx="991.3" cy="979.5" r="13.2"/>
<circle cx="997.8" cy="950.1" r="13.2"/>
<circle cx="1004.4" cy="919.8" r="13.2"/>
<circle cx="1010.9" cy="892.3" r="13.2"/>
<circle cx="1017.5" cy="864.2" r="13.2"/>
<circle cx="1024" cy="838.9" r="13.2"/>
<circle cx="1030.6" cy="816.9" r="13.2"/>
<circle cx="1037.1" cy="795.3" r="13.2"/>
<circle cx="1043.7" cy="774.3" r="13.2"/>
<circle cx="1050.2" cy="756.7" r="13.2"/>
<circle cx="1056.8" cy="739.5" r="13.2"/>
<circle cx="1063.3" cy="725.4" r="13.2"/>
<circle cx="1069.9" cy="712.6" r="13.2"/>
<circle cx="1076.5" cy="700.4" r="13.2"/>
<circle cx="1083" cy="689.4" r="13.2"/>
<circle cx="1089.6" cy="679" r="13.2"/>
<circle cx="1096.1" cy="670" r="13.2"/>
<circle cx="1102.7" cy="661.8" r="13.2"/>
<circle cx="1109.2" cy="653.6" r="13.2"/>
<circle cx="1115.8" cy="646.5" r="13.2"/>
<circle cx="1122.3" cy="640" r="13.2"/>
<circle cx="1128.9" cy="633.3" r="13.2"/>
<circle cx="1135.4" cy="628.5" r="13.2"/>
<circle cx="1142" cy="624.5" r="13.2"/>
<circle cx="1148.6" cy="621.4" r="13.2"/>
<circle cx="1155.1" cy="619.2" r="13.2"/>
<circle cx="1161.7" cy="617.5" r="13.2"/>
<circle cx="1168.2" cy="616" r="13.2"/>
<circle cx="1174.8" cy="614.5" r="13.2"/>
<circle cx="1181.3" cy="613" r="13.2"/>
<circle cx="1187.9" cy="611.6" r="13.2"/>
<circle cx="1194.4" cy="610.2" r="13.2"/>
<circle cx="1201" cy="608.8" r="13.2"/>
<circle cx="1207.5" cy="607.4" r="13.2"/>
<circle cx="1214.1" cy="606.3" r="13.2"/>
<circle cx="1220.6" cy="605.6" r="13.2"/>
<circle cx="1227.2" cy="605" r="13.2"/>
<circle cx="1233.8" cy="604.5" r="13.2"/>
<circle cx="1240.3" cy="603.9" r="13.2"/>
<circle cx="1246.9" cy="603.3" r="13.2"/>
<circle cx="1253.4" cy="602.8" r="13.2"/>
<circle cx="1260" cy="602.1" r="13.2"/>
<circle cx="1266.5" cy="601.3" r="13.2"/>
<circle cx="1273.1" cy="600.2" r="13.2"/>
<circle cx="1279.6" cy="599" r="13.2"/>
<circle cx="1286.2" cy="597.9" r="13.2"/>
<circle cx="1292.7" cy="596.7" r="13.2"/>
<circle cx="1299.3" cy="595.5" r="13.2"/>
<circle cx="1305.8" cy="594.2" r="13.2"/>
<circle cx="1312.4" cy="592.8" r="13.2"/>
<circle cx="1319" cy="591.1" r="13.2"/>
<circle cx="1325.5" cy="589.4" r="13.2"/>
<circle cx="1332.1" cy="587.5" r="13.2"/>
<circle cx="1338.6" cy="585.6" r="13.2"/>
<circle cx="1345.2" cy="583.7" r="13.2"/>
<circle cx="1351.7" cy="581.7" r="13.2"/>
<circle cx="1358.3" cy="579.5" r="13.2"/>
<circle cx="1364.8" cy="577.4" r="13.2"/>
<circle cx="1371.4" cy="575.1" r="13.2"/>
<circle cx="1377.9" cy="572.7" r="13.2"/>
<circle cx="1384.5" cy="570" r="13.2"/>
<circle cx="1391" cy="566.8" r="13.2"/>
<circle cx="1397.6" cy="563.1" r="13.2"/>
<circle cx="1404.2" cy="559.4" r="13.2"/>
<circle cx="1410.7" cy="556" r="13.2"/>
<circle cx="1417.3" cy="552.8" r="13.2"/>
<circle cx="1423.8" cy="549.5" r="13.2"/>
<circle cx="1430.4" cy="546" r="13.2"/>
<circle cx="1436.9" cy="542.4" r="13.2"/>
<circle cx="1443.5" cy="538.7" r="13.2"/>
<circle cx="1450" cy="534.7" r="13.2"/>
<circle cx="1456.6" cy="530.5" r="13.2"/>
<circle cx="1463.1" cy="526" r="13.2"/>
<circle cx="1469.7" cy="521.6" r="13.2"/>
<circle cx="1476.3" cy="517.1" r="13.2"/>
<circle cx="1482.8" cy="511.7" r="13.2"/>
<circle cx="1489.4" cy="503.7" r="13.2"/>
<circle cx="1495.9" cy="493.3" r="13.2"/>
<circle cx="1502.5" cy="484.2" r="13.2"/>
<circle cx="1509" cy="477" r="13.2"/>
<circle cx="1515.6" cy="470.2" r="13.2"/>
<circle cx="1522.1" cy="462.7" r="13.2"/>
<circle cx="1528.7" cy="454.1" r="13.2"/>
<circle cx="1535.2" cy="444.7" r="13.2"/>
<circle cx="1541.8" cy="435" r="13.2"/>
<circle cx="1548.3" cy="425.4" r="13.2"/>
<circle cx="1554.9" cy="415.6" r="13.2"/>
<circle cx="1561.5" cy="405.7" r="13.2"/>
<circle cx="1568" cy="395.8" r="13.2"/>
<circle cx="1574.6" cy="386" r="13.2"/>
<circle cx="1581.1" cy="376.3" r="13.2"/>
<circle cx="1587.7" cy="366.4" r="13.2"/>
<circle cx="1594.2" cy="356.3" r="13.2"/>
<circle cx="1600.8" cy="345.8" r="13.2"/>
<circle cx="1607.3" cy="335.2" r="13.2"/>
<circle cx="1613.9" cy="324.7" r="13.2"/>
<circle cx="1620.4" cy="314.4" r="13.2"/>
<circle cx="1627" cy="304" r="13.2"/>
<circle cx="1633.5" cy="293.9" r="13.2"/>
<circle cx="1640.1" cy="284.2" r="13.2"/>
<circle cx="1646.7" cy="274.8" r="13.2"/>
<circle cx="1653.2" cy="265.7" r="13.2"/>
<circle cx="1659.8" cy="257.1" r="13.2"/>
<circle cx="1666.3" cy="249.1" r="13.2"/>
<circle cx="1672.9" cy="241.4" r="13.2"/>
<circle cx="1679.4" cy="234.3" r="13.2"/>
<circle cx="1686" cy="228.3" r="13.2"/>
<circle cx="1692.5" cy="223.3" r="13.2"/>
<circle cx="1699.1" cy="218.9" r="13.2"/>
<circle cx="1705.6" cy="214.6" r="13.2"/>
<circle cx="1712.2" cy="210.1" r="13.2"/>
<circle cx="1718.8" cy="205.2" r="13.2"/>
<circle cx="1725.3" cy="200.6" r="13.2"/>
<circle cx="1731.9" cy="196.8" r="13.2"/>
<circle cx="1738.4" cy="193.7" r="13.2"/>
<circle cx="1745" cy="190.9" r="13.2"/>
<circle cx="1751.5" cy="188.4" r="13.2"/>
<circle cx="1758.1" cy="185.9" r="13.2"/>
<circle cx="1764.6" cy="183.6" r="13.2"/>
<circle cx="1771.2" cy="181.4" r="13.2"/>
<circle cx="1777.7" cy="179.4" r="13.2"/>
<circle cx="1784.3" cy="177.5" r="13.2"/>
<circle cx="1790.8" cy="175.7" r="13.2"/>
<circle cx="1797.4" cy="173.9" r="13.2"/>
<circle cx="1804" cy="172.2" r="13.2"/>
<circle cx="1810.5" cy="170.5" r="13.2"/>
<circle cx="1817.1" cy="168.8" r="13.2"/>
<circle cx="1823.6" cy="167.3" r="13.2"/>
<circle cx="1830.2" cy="166" r="13.2"/>
<circle cx="1836.7" cy="164.8" r="13.2"/>
<circle cx="1843.3" cy="163.7" r="13.2"/>
<circle cx="1849.8" cy="162.6" r="13.2"/>
<circle cx="1856.4" cy="161.5" r="13.2"/>
<circle cx="1862.9" cy="160.3" r="13.2"/>
<circle cx="1869.5" cy="159.2" r="13.2"/>
<circle cx="1876" cy="158.2" r="13.2"/>
<circle cx="1882.6" cy="157.1" r="13.2"/>
<circle cx="1889.2" cy="156.1" r="13.2"/>
<circle cx="1895.7" cy="155.1" r="13.2"/>
<circle cx="1902.3" cy="154.3" r="13.2"/>
<circle cx="1908.8" cy="153.5" r="13.2"/>
<circle cx="1915.4" cy="152.7" r="13.2"/>
<circle cx="1921.9" cy="151.9" r="13.2"/>
<circle cx="1928.5" cy="151.1" r="13.2"/>
<circle cx="1935" cy="150.3" r="13.2"/>
<circle cx="1941.6" cy="149.4" r="13.2"/>
<circle cx="1948.1" cy="148.4" r="13.2"/>
<circle cx="1954.7" cy="147.4" r="13.2"/>
<circle cx="1961.2" cy="146.3" r="13.2"/>
<circle cx="1967.8" cy="145.2" r="13.2"/>
<circle cx="1974.4" cy="144.1" r="13.2"/>
<circle cx="1980.9" cy="143" r="13.2"/>
<circle cx="1987.5" cy="141.8" r="13.2"/>
<circle cx="1994" cy="140.6" r="13.2"/>
<circle cx="2000.6" cy="139.4" r="13.2"/>
<circle cx="2007.1" cy="138.2" r="13.2"/>
<circle cx="2013.7" cy="137" r="13.2"/>
<circle cx="2020.2" cy="135.7" r="13.2"/>
<circle cx="2026.8" cy="134.5" r="13.2"/>
<circle cx="2033.3" cy="133.2" r="13.2"/>
<circle cx="2039.9" cy="132" r="13.2"/>
<circle cx="2046.5" cy="130.8" r="13.2"/>
<circle cx="2053" cy="129.7" r="13.2"/>
<circle cx="2059.6" cy="128.5" r="13.2"/>
<circle cx="2066.1" cy="127.3" r="13.2"/>
<circle cx="2072.7" cy="126.1" r="13.2"/>
<circle cx="2079.2" cy="125" r="13.2"/>
<circle cx="2085.8" cy="123.8" r="13.2"/>
<circle cx="2092.3" cy="122.7" r="13.2"/>
<circle cx="2098.9" cy="121.5" r="13.2"/>
<circle cx="2105.4" cy="120.4" r="13.2"/>
<circle cx="2112" cy="119.2" r="13.2"/>
<circle cx="2118.5" cy="118.2" r="13.2"/>
<circle cx="2125.1" cy="117.2" r="13.2"/>
<circle cx="2131.7" cy="116.2" r="13.2"/>
<circle cx="2138.2" cy="115.4" r="13.2"/>
<circle cx="2144.8" cy="114.5" r="13.2"/>
<circle cx="2151.3" cy="113.8" r="13.2"/>
<circle cx="2157.9" cy="113" r="13.2"/>
<circle cx="2164.4" cy="112.3" r="13.2"/>
<circle cx="2171" cy="111.6" r="13.2"/>
<circle cx="2177.5" cy="110.9" r="13.2"/>
<circle cx="2184.1" cy="110.2" r="13.2"/>
<circle cx="2190.6" cy="109.5" r="13.2"/>
<circle cx="2197.2" cy="108.9" r="13.2"/>
<circle cx="2203.7" cy="108.3" r="13.2"/>
<circle cx="2210.3" cy="107.7" r="13.2"/>
<circle cx="2216.9" cy="107.1" r="13.2"/>
<circle cx="2223.4" cy="106.5" r="13.2"/>
</g>
<g stroke="#0000ff" stroke-width="5.2" stroke-linejoin="round" fill="#fff">
<polyline fill="none" stroke-width="5" points="220.9,1534 230.8,1534 240.7,1534 250.6,1534 260.5,1534 270.4,1534 280.3,1534 290.2,1534 300.1,1534 310,1534 319.9,1534 329.8,1534 339.7,1534 349.6,1534 359.5,1534 369.4,1534 379.3,1534 389.2,1534 399.1,1534 409,1534 418.9,1534 428.8,1534 438.7,1534 448.6,1534 458.5,1534 468.4,1534 478.3,1534 488.2,1534 498.1,1533.9 508,1533.7 517.9,1533.5 527.8,1533.3 537.7,1533.1 547.6,1532.8 557.5,1532.5 567.4,1532.2 577.3,1531.8 587.2,1531.5 597.1,1531.1 607,1530.7 616.9,1530.2 626.8,1529.5 636.7,1528.8 646.6,1528 656.5,1527.2 666.4,1526.4 676.3,1525.7 686.2,1525 696.1,1524.4 706,1523.8 715.9,1523.2 725.8,1522.5 735.7,1521.7 745.6,1520.7 755.5,1519.4 765.4,1517.6 775.3,1515.7 785.2,1513.7 795.1,1511.7 805,1509.8 814.9,1507.9 824.8,1505.6 834.7,1502.9 844.6,1499.4 854.5,1494.8 864.4,1488.7 874.3,1478.4 884.2,1467.3 894.1,1456.7 904,1444.9 913.9,1428.6 923.8,1406.5 933.7,1379.3 943.6,1349.4 953.5,1316.4 963.4,1277.1 973.3,1238.8 983.2,1197 993.1,1149.5 1003,1101.7 1012.9,1054.4 1022.8,1003.1 1032.7,957.2 1042.6,916.6 1052.5,875.5 1062.4,836.4 1072.3,807.2 1082.2,778.2 1092.1,750.8 1102,725.6 1111.9,706.3 1121.8,689.1 1131.7,674.4 1141.6,662.2 1151.5,652 1161.4,644.7 1171.3,638.8 1181.2,634.2 1191.1,631.3 1201,628.4 1210.9,625.7 1220.8,623.5 1230.7,621.6 1240.6,619.9 1250.5,618.4 1260.4,616.8 1270.3,615.4 1280.2,614.2 1290.1,613 1300,611.7 1309.9,610.1 1319.8,607.9 1329.7,605.3 1339.6,602.7 1349.5,600.3 1359.4,598.4 1369.3,597.1 1379.2,595.7 1389.1,593.4 1399,589.8 1408.9,585.5 1418.8,581 1428.7,576 1438.6,570.8 1448.5,565.2 1458.4,559.4 1468.3,554.2 1478.2,547.6 1488.1,540.4 1498,532.1 1507.9,521.6 1517.8,511.6 1527.7,500.7 1537.6,489.1 1547.5,475.9 1557.4,463 1567.3,447.7 1577.2,432.9 1587.1,418.1 1597,402 1606.9,385.3 1616.8,369.3 1626.7,354.1 1636.6,338.9 1646.5,323.7 1656.4,309.6 1666.3,297 1676.2,284.3 1686.1,272.5 1696,261.5 1705.9,251.1 1715.8,241.3 1725.7,233.8 1735.6,227.1 1745.5,220.2 1755.4,214.1 1765.3,208.1 1775.2,202.7 1785.1,198.5 1795,194.9 1804.9,191.7 1814.8,188.9 1824.7,186.2 1834.6,183.7 1844.5,181.7 1854.4,180 1864.3,178.5 1874.2,177.2 1884.1,175.9 1894,174.7 1903.9,173.4 1913.8,172.3 1923.7,171.2 1933.6,170.1 1943.5,169 1953.4,167.8 1963.3,166.6 1973.2,165.5 1983.1,164.2 1993,162.9 2002.9,161.4 2012.8,160 2022.7,158.4 2032.6,156.9 2042.5,155.4 2052.4,154 2062.3,152.5 2072.2,150.9 2082.1,149.3 2092,147.4 2101.9,145.3 2111.8,143.2 2121.7,141.1 2131.6,139.2 2141.5,137.4 2151.4,135.6 2161.3,133.8 2171.2,132.1 2181.1,130.5 2191,128.9 2200.9,127.3 2210.8,125.7 2220.7,124.2 2230.6,122.8"/>
<path d="M220.9 1514.7l16.3 28.9h-32.6z"/>
<path d="M230.8 1514.7l16.3 28.9h-32.6z"/>
<path d="M240.7 1514.7l16.3 28.9h-32.6z"/>
<path d="M250.6 1514.7l16.3 28.9h-32.6z"/>
<path d="M260.5 1514.7l16.3 28.9h-32.6z"/>
<path d="M270.4 1514.7l16.3 28.9h-32.6z"/>
<path d="M280.3 1514.7l16.3 28.9h-32.6z"/>
<path d="M290.2 1514.7l16.3 28.9h-32.6z"/>
<path d="M300.1 1514.7l16.3 28.9h-32.6z"/>
<path d="M310 1514.7l16.3 28.9h-32.6z"/>
<path d="M319.9 1514.7l16.3 28.9h-32.6z"/>
<path d="M329.8 1514.7l16.3 28.9h-32.6z"/>
<path d="M339.7 1514.7l16.3 28.9h-32.6z"/>
<path d="M349.6 1514.7l16.3 28.9h-32.6z"/>
<path d="M359.5 1514.7l16.3 28.9h-32.6z"/>
<path d="M369.4 1514.7l16.3 28.9h-32.6z"/>
<path d="M379.3 1514.7l16.3 28.9h-32.6z"/>
<path d="M389.2 1514.7l16.3 28.9h-32.6z"/>
<path d="M399.1 1514.7l16.3 28.9h-32.6z"/>
<path d="M409 1514.7l16.3 28.9h-32.6z"/>
<path d="M418.9 1514.7l16.3 28.9h-32.6z"/>
<path d="M428.8 1514.7l16.3 28.9h-32.6z"/>
<path d="M438.7 1514.7l16.3 28.9h-32.6z"/>
<path d="M448.6 1514.7l16.3 28.9h-32.6z"/>
<path d="M458.5 1514.7l16.3 28.9h-32.6z"/>
<path d="M468.4 1514.7l16.3 28.9h-32.6z"/>
<path d="M478.3 1514.7l16.3 28.9h-32.6z"/>
<path d="M488.2 1514.7l16.3 28.9h-32.6z"/>
<path d="M498.1 1514.6l16.3 28.9h-32.6z"/>
<path d="M508 1514.5l16.3 28.9h-32.6z"/>
<path d="M517.9 1514.3l16.3 28.9h-32.6z"/>
<path d="M527.8 1514.1l16.3 28.9h-32.6z"/>
<path d="M537.7 1513.8l16.3 28.9h-32.6z"/>
<path d="M547.6 1513.5l16.3 28.9h-32.6z"/>
<path d="M557.5 1513.2l16.3 28.9h-32.6z"/>
<path d="M567.4 1512.9l16.3 28.9h-32.6z"/>
<path d="M577.3 1512.6l16.3 28.9h-32.6z"/>
<path d="M587.2 1512.2l16.3 28.9h-32.6z"/>
<path d="M597.1 1511.8l16.3 28.9h-32.6z"/>
<path d="M607 1511.4l16.3 28.9h-32.6z"/>
<path d="M616.9 1510.9l16.3 28.9h-32.6z"/>
<path d="M626.8 1510.2l16.3 28.9h-32.6z"/>
<path d="M636.7 1509.5l16.3 28.9h-32.6z"/>
<path d="M646.6 1508.7l16.3 28.9h-32.6z"/>
<path d="M656.5 1507.9l16.3 28.9h-32.6z"/>
<path d="M666.4 1507.2l16.3 28.9h-32.6z"/>
<path d="M676.3 1506.4l16.3 28.9h-32.6z"/>
<path d="M686.2 1505.7l16.3 28.9h-32.6z"/>
<path d="M696.1 1505.1l16.3 28.9h-32.6z"/>
<path d="M706 1504.5l16.3 28.9h-32.6z"/>
<path d="M715.9 1503.9l16.3 28.9h-32.6z"/>
<path d="M725.8 1503.2l16.3 28.9h-32.6z"/>
<path d="M735.7 1502.4l16.3 28.9h-32.6z"/>
<path d="M745.6 1501.5l16.3 28.9h-32.6z"/>
<path d="M755.5 1500.1l16.3 28.9h-32.6z"/>
<path d="M765.4 1498.4l16.3 28.9h-32.6z"/>
<path d="M775.3 1496.4l16.3 28.9h-32.6z"/>
<path d="M785.2 1494.4l16.3 28.9h-32.6z"/>
<path d="M795.1 1492.4l16.3 28.9h-32.6z"/>
<path d="M805 1490.6l16.3 28.9h-32.6z"/>
<path d="M814.9 1488.6l16.3 28.9h-32.6z"/>
<path d="M824.8 1486.4l16.3 28.9h-32.6z"/>
<path d="M834.7 1483.6l16.3 28.9h-32.6z"/>
<path d="M844.6 1480.2l16.3 28.9h-32.6z"/>
<path d="M854.5 1475.6l16.3 28.9h-32.6z"/>
<path d="M864.4 1469.4l16.3 28.9h-32.6z"/>
<path d="M874.3 1459.1l16.3 28.9h-32.6z"/>
<path d="M884.2 1448.1l16.3 28.9h-32.6z"/>
<path d="M894.1 1437.4l16.3 28.9h-32.6z"/>
<path d="M904 1425.6l16.3 28.9h-32.6z"/>
<path d="M913.9 1409.4l16.3 28.9h-32.6z"/>
<path d="M923.8 1387.3l16.3 28.9h-32.6z"/>
<path d="M933.7 1360l16.3 28.9h-32.6z"/>
<path d="M943.6 1330.1l16.3 28.9h-32.6z"/>
<path d="M953.5 1297.1l16.3 28.9h-32.6z"/>
<path d="M963.4 1257.9l16.3 28.9h-32.6z"/>
<path d="M973.3 1219.5l16.3 28.9h-32.6z"/>
<path d="M983.2 1177.7l16.3 28.9h-32.6z"/>
<path d="M993.1 1130.2l16.3 28.9h-32.6z"/>
<path d="M1003 1082.4l16.3 28.9h-32.6z"/>
<path d="M1012.9 1035.1l16.3 28.9h-32.6z"/>
<path d="M1022.8 983.8l16.3 28.9h-32.6z"/>
<path d="M1032.7 937.9l16.3 28.9h-32.6z"/>
<path d="M1042.6 897.3l16.3 28.9h-32.6z"/>
<path d="M1052.5 856.2l16.3 28.9h-32.6z"/>
<path d="M1062.4 817.1l16.3 28.9h-32.6z"/>
<path d="M1072.3 787.9l16.3 28.9h-32.6z"/>
<path d="M1082.2 758.9l16.3 28.9h-32.6z"/>
<path d="M1092.1 731.6l16.3 28.9h-32.6z"/>
<path d="M1102 706.3l16.3 28.9h-32.6z"/>
<path d="M1111.9 687.1l16.3 28.9h-32.6z"/>
<path d="M1121.8 669.8l16.3 28.9h-32.6z"/>
<path d="M1131.7 655.1l16.3 28.9h-32.6z"/>
<path d="M1141.6 643l16.3 28.9h-32.6z"/>
<path d="M1151.5 632.7l16.3 28.9h-32.6z"/>
<path d="M1161.4 625.5l16.3 28.9h-32.6z"/>
<path d="M1171.3 619.5l16.3 28.9h-32.6z"/>
<path d="M1181.2 614.9l16.3 28.9h-32.6z"/>
<path d="M1191.1 612.1l16.3 28.9h-32.6z"/>
<path d="M1201 609.2l16.3 28.9h-32.6z"/>
<path d="M1210.9 606.4l16.3 28.9h-32.6z"/>
<path d="M1220.8 604.3l16.3 28.9h-32.6z"/>
<path d="M1230.7 602.4l16.3 28.9h-32.6z"/>
<path d="M1240.6 600.7l16.3 28.9h-32.6z"/>
<path d="M1250.5 599.1l16.3 28.9h-32.6z"/>
<path d="M1260.4 597.6l16.3 28.9h-32.6z"/>
<path d="M1270.3 596.2l16.3 28.9h-32.6z"/>
<path d="M1280.2 594.9l16.3 28.9h-32.6z"/>
<path d="M1290.1 593.7l16.3 28.9h-32.6z"/>
<path d="M1300 592.4l16.3 28.9h-32.6z"/>
<path d="M1309.9 590.8l16.3 28.9h-32.6z"/>
<path d="M1319.8 588.7l16.3 28.9h-32.6z"/>
<path d="M1329.7 586.1l16.3 28.9h-32.6z"/>
<path d="M1339.6 583.4l16.3 28.9h-32.6z"/>
<path d="M1349.5 581l16.3 28.9h-32.6z"/>
<path d="M1359.4 579.1l16.3 28.9h-32.6z"/>
<path d="M1369.3 577.8l16.3 28.9h-32.6z"/>
<path d="M1379.2 576.4l16.3 28.9h-32.6z"/>
<path d="M1389.1 574.2l16.3 28.9h-32.6z"/>
<path d="M1399 570.5l16.3 28.9h-32.6z"/>
<path d="M1408.9 566.3l16.3 28.9h-32.6z"/>
<path d="M1418.8 561.8l16.3 28.9h-32.6z"/>
<path d="M1428.7 556.8l16.3 28.9h-32.6z"/>
<path d="M1438.6 551.6l16.3 28.9h-32.6z"/>
<path d="M1448.5 545.9l16.3 28.9h-32.6z"/>
<path d="M1458.4 540.1l16.3 28.9h-32.6z"/>
<path d="M1468.3 534.9l16.3 28.9h-32.6z"/>
<path d="M1478.2 528.3l16.3 28.9h-32.6z"/>
<path d="M1488.1 521.1l16.3 28.9h-32.6z"/>
<path d="M1498 512.9l16.3 28.9h-32.6z"/>
<path d="M1507.9 502.3l16.3 28.9h-32.6z"/>
<path d="M1517.8 492.4l16.3 28.9h-32.6z"/>
<path d="M1527.7 481.5l16.3 28.9h-32.6z"/>
<path d="M1537.6 469.8l16.3 28.9h-32.6z"/>
<path d="M1547.5 456.6l16.3 28.9h-32.6z"/>
<path d="M1557.4 443.8l16.3 28.9h-32.6z"/>
<path d="M1567.3 428.4l16.3 28.9h-32.6z"/>
<path d="M1577.2 413.7l16.3 28.9h-32.6z"/>
<path d="M1587.1 398.9l16.3 28.9h-32.6z"/>
<path d="M1597 382.7l16.3 28.9h-32.6z"/>
<path d="M1606.9 366l16.3 28.9h-32.6z"/>
<path d="M1616.8 350l16.3 28.9h-32.6z"/>
<path d="M1626.7 334.9l16.3 28.9h-32.6z"/>
<path d="M1636.6 319.6l16.3 28.9h-32.6z"/>
<path d="M1646.5 304.5l16.3 28.9h-32.6z"/>
<path d="M1656.4 290.4l16.3 28.9h-32.6z"/>
<path d="M1666.3 277.8l16.3 28.9h-32.6z"/>
<path d="M1676.2 265.1l16.3 28.9h-32.6z"/>
<path d="M1686.1 253.2l16.3 28.9h-32.6z"/>
<path d="M1696 242.3l16.3 28.9h-32.6z"/>
<path d="M1705.9 231.8l16.3 28.9h-32.6z"/>
<path d="M1715.8 222.1l16.3 28.9h-32.6z"/>
<path d="M1725.7 214.5l16.3 28.9h-32.6z"/>
<path d="M1735.6 207.8l16.3 28.9h-32.6z"/>
<path d="M1745.5 200.9l16.3 28.9h-32.6z"/>
<path d="M1755.4 194.8l16.3 28.9h-32.6z"/>
<path d="M1765.3 188.9l16.3 28.9h-32.6z"/>
<path d="M1775.2 183.5l16.3 28.9h-32.6z"/>
<path d="M1785.1 179.2l16.3 28.9h-32.6z"/>
<path d="M1795 175.6l16.3 28.9h-32.6z"/>
<path d="M1804.9 172.4l16.3 28.9h-32.6z"/>
<path d="M1814.8 169.6l16.3 28.9h-32.6z"/>
<path d="M1824.7 166.9l16.3 28.9h-32.6z"/>
<path d="M1834.6 164.4l16.3 28.9h-32.6z"/>
<path d="M1844.5 162.4l16.3 28.9h-32.6z"/>
<path d="M1854.4 160.7l16.3 28.9h-32.6z"/>
<path d="M1864.3 159.3l16.3 28.9h-32.6z"/>
<path d="M1874.2 157.9l16.3 28.9h-32.6z"/>
<path d="M1884.1 156.7l16.3 28.9h-32.6z"/>
<path d="M1894 155.4l16.3 28.9h-32.6z"/>
<path d="M1903.9 154.2l16.3 28.9h-32.6z"/>
<path d="M1913.8 153l16.3 28.9h-32.6z"/>
<path d="M1923.7 151.9l16.3 28.9h-32.6z"/>
<path d="M1933.6 150.8l16.3 28.9h-32.6z"/>
<path d="M1943.5 149.7l16.3 28.9h-32.6z"/>
<path d="M1953.4 148.5l16.3 28.9h-32.6z"/>
<path d="M1963.3 147.4l16.3 28.9h-32.6z"/>
<path d="M1973.2 146.2l16.3 28.9h-32.6z"/>
<path d="M1983.1 144.9l16.3 28.9h-32.6z"/>
<path d="M1993 143.6l16.3 28.9h-32.6z"/>
<path d="M2002.9 142.2l16.3 28.9h-32.6z"/>
<path d="M2012.8 140.7l16.3 28.9h-32.6z"/>
<path d="M2022.7 139.2l16.3 28.9h-32.6z"/>
<path d="M2032.6 137.6l16.3 28.9h-32.6z"/>
<path d="M2042.5 136.2l16.3 28.9h-32.6z"/>
<path d="M2052.4 134.7l16.3 28.9h-32.6z"/>
<path d="M2062.3 133.2l16.3 28.9h-32.6z"/>
<path d="M2072.2 131.7l16.3 28.9h-32.6z"/>
<path d="M2082.1 130l16.3 28.9h-32.6z"/>
<path d="M2092 128.1l16.3 28.9h-32.6z"/>
<path d="M2101.9 126.1l16.3 28.9h-32.6z"/>
<path d="M2111.8 124l16.3 28.9h-32.6z"/>
<path d="M2121.7 121.9l16.3 28.9h-32.6z"/>
<path d="M2131.6 119.9l16.3 28.9h-32.6z"/>
<path d="M2141.5 118.1l16.3 28.9h-32.6z"/>
<path d="M2151.4 116.3l16.3 28.9h-32.6z"/>
<path d="M2161.3 114.6l16.3 28.9h-32.6z"/>
<path d="M2171.2 112.9l16.3 28.9h-32.6z"/>
<path d="M2181.1 111.2l16.3 28.9h-32.6z"/>
<path d="M2191 109.6l16.3 28.9h-32.6z"/>
<path d="M2200.9 108l16.3 28.9h-32.6z"/>
<path d="M2210.8 106.5l16.3 28.9h-32.6z"/>
<path d="M2220.7 105l16.3 28.9h-32.6z"/>
<path d="M2230.6 103.5l16.3 28.9h-32.6z"/>
</g>
<g stroke="#ff00ff" stroke-width="5.2" stroke-linejoin="round" fill="#fff">
<polyline fill="none" stroke-width="4.4" points="223.8,1534 231.7,1534 239.6,1533.9 247.5,1533.8 255.3,1533.6 263.2,1533.4 271.1,1533.2 278.9,1532.9 286.8,1532.6 294.7,1532.3 302.5,1531.9 310.4,1531.6 318.3,1531.2 326.1,1530.8 334,1530.4 341.9,1530 349.8,1529.6 357.6,1529.2 365.5,1528.8 373.4,1528.4 381.2,1528 389.1,1527.6 397,1527.3 404.9,1526.9 412.7,1526.5 420.6,1526.1 428.5,1525.7 436.3,1525.3 444.2,1524.8 452.1,1524.4 459.9,1523.9 467.8,1523.4 475.7,1522.9 483.6,1522.5 491.4,1522 499.3,1521.5 507.2,1521.1 515,1520.6 522.9,1520.2 530.8,1519.7 538.6,1519.2 546.5,1518.6 554.4,1517.9 562.2,1517.2 570.1,1516.5 578,1515.7 585.9,1514.9 593.7,1514.1 601.6,1513.3 609.5,1512.6 617.3,1511.8 625.2,1511.1 633.1,1510.4 641,1509.7 648.8,1509 656.7,1508.3 664.6,1507.7 672.4,1507.1 680.3,1506.5 688.2,1506 696,1505.4 703.9,1504.8 711.8,1504.2 719.7,1503.6 727.5,1502.9 735.4,1502.2 743.3,1501.4 751.1,1500.7 759,1499.8 766.9,1499 774.7,1498.1 782.6,1497.1 790.5,1496.1 798.4,1495.1 806.2,1494 814.1,1492.9 822,1491.8 829.8,1490.7 837.7,1489.5 845.6,1488.2 853.4,1486.9 861.3,1485.6 869.2,1484.3 877.1,1482.8 884.9,1481.2 892.8,1479.1 900.7,1476.1 908.5,1472.1 916.4,1466.7 924.3,1460.7 932.1,1452.3 940,1444.2 947.9,1435 955.8,1422.5 963.6,1411 971.5,1395.3 979.4,1378.9 987.2,1359.7 995.1,1340.7 1003,1312.6 1010.8,1286.6 1018.7,1259.8 1026.6,1229.2 1034.5,1198.1 1042.3,1161.6 1050.2,1127.2 1058.1,1092.2 1065.9,1057.3 1073.8,1020.3 1081.7,983.4 1089.5,949.9 1097.4,915.7 1105.3,882 1113.2,851 1121,821.3 1128.9,796 1136.8,769.5 1144.6,747.8 1152.5,725.8 1160.4,707.3 1168.2,691.5 1176.1,678.4 1184,667.2 1191.8,658.2 1199.7,651.1 1207.6,644.9 1215.5,639.8 1223.3,635.4 1231.2,631.4 1239.1,628.1 1246.9,625.5 1254.8,623.2 1262.7,621.3 1270.5,619.6 1278.4,618.1 1286.3,616.6 1294.2,614.9 1302,613.3 1309.9,611.9 1317.8,610.7 1325.6,609.6 1333.5,608.4 1341.4,607.3 1349.2,606.1 1357.1,604.8 1365,603.3 1372.9,601.6 1380.7,599.9 1388.6,598.2 1396.5,596.4 1404.3,594.4 1412.2,592.3 1420.1,590 1428,587.4 1435.8,584.6 1443.7,581.6 1451.6,578.4 1459.4,575 1467.3,571.2 1475.2,567.5 1483,563.9 1490.9,559.9 1498.8,555.5 1506.7,550.8 1514.5,545.7 1522.4,540.5 1530.3,535.1 1538.1,529.3 1546,523.1 1553.9,516.3 1561.7,508.7 1569.6,500.7 1577.5,492.3 1585.3,483.2 1593.2,473.6 1601.1,463.4 1609,452.6 1616.8,441.7 1624.7,431 1632.6,418.9 1640.4,406.9 1648.3,395.4 1656.2,383.2 1664.1,371.5 1671.9,358.4 1679.8,348.1 1687.7,334.6 1695.5,323.7 1703.4,313 1711.3,301.6 1719.1,292.2 1727,283.5 1734.9,274.3 1742.8,266 1750.6,257.7 1758.5,250.8 1766.4,243.8 1774.2,237.8 1782.1,231.8 1790,226.3 1797.8,221.2 1805.7,216.5 1813.6,211.9 1821.5,208.2 1829.3,204.4 1837.2,201.2 1845.1,198.3 1852.9,195.5 1860.8,193.2 1868.7,190.8 1876.5,188.9 1884.4,187.1 1892.3,185.2 1900.2,183.8 1908,182.6 1915.9,181.6 1923.8,180.6 1931.6,179.7 1939.5,178.7 1947.4,177.6 1955.2,176.6 1963.1,175.6 1971,174.6 1978.8,173.6 1986.7,172.6 1994.6,171.7 2002.5,170.9 2010.3,170.1 2018.2,169.2 2026.1,168.4 2033.9,167.6 2041.8,166.7 2049.7,165.9 2057.6,165.1 2065.4,164.2 2073.3,163.3 2081.2,162.3 2089,161.1 2096.9,159.8 2104.8,158.4 2112.6,157 2120.5,155.6 2128.4,154.2 2136.2,153 2144.1,151.7 2152,150.5 2159.9,149.2 2167.7,147.9 2175.6,146.6 2183.5,145.2 2191.3,143.7 2199.2,142.2 2207.1,140.7 2214.9,139.3 2222.8,138"/>
<path d="M223.8 1553.3l-16.3 -28.9h32.6z"/>
<path d="M231.7 1553.3l-16.3 -28.9h32.6z"/>
<path d="M239.6 1553.2l-16.3 -28.9h32.6z"/>
<path d="M247.5 1553.1l-16.3 -28.9h32.6z"/>
<path d="M255.3 1552.9l-16.3 -28.9h32.6z"/>
<path d="M263.2 1552.7l-16.3 -28.9h32.6z"/>
<path d="M271.1 1552.4l-16.3 -28.9h32.6z"/>
<path d="M278.9 1552.1l-16.3 -28.9h32.6z"/>
<path d="M286.8 1551.8l-16.3 -28.9h32.6z"/>
<path d="M294.7 1551.5l-16.3 -28.9h32.6z"/>
<path d="M302.5 1551.2l-16.3 -28.9h32.6z"/>
<path d="M310.4 1550.9l-16.3 -28.9h32.6z"/>
<path d="M318.3 1550.5l-16.3 -28.9h32.6z"/>
<path d="M326.1 1550.1l-16.3 -28.9h32.6z"/>
<path d="M334 1549.7l-16.3 -28.9h32.6z"/>
<path d="M341.9 1549.3l-16.3 -28.9h32.6z"/>
<path d="M349.8 1548.9l-16.3 -28.9h32.6z"/>
<path d="M357.6 1548.5l-16.3 -28.9h32.6z"/>
<path d="M365.5 1548.1l-16.3 -28.9h32.6z"/>
<path d="M373.4 1547.7l-16.3 -28.9h32.6z"/>
<path d="M381.2 1547.3l-16.3 -28.9h32.6z"/>
<path d="M389.1 1546.9l-16.3 -28.9h32.6z"/>
<path d="M397 1546.5l-16.3 -28.9h32.6z"/>
<path d="M404.9 1546.2l-16.3 -28.9h32.6z"/>
<path d="M412.7 1545.8l-16.3 -28.9h32.6z"/>
<path d="M420.6 1545.4l-16.3 -28.9h32.6z"/>
<path d="M428.5 1545l-16.3 -28.9h32.6z"/>
<path d="M436.3 1544.5l-16.3 -28.9h32.6z"/>
<path d="M444.2 1544.1l-16.3 -28.9h32.6z"/>
<path d="M452.1 1543.7l-16.3 -28.9h32.6z"/>
<path d="M459.9 1543.2l-16.3 -28.9h32.6z"/>
<path d="M467.8 1542.7l-16.3 -28.9h32.6z"/>
<path d="M475.7 1542.2l-16.3 -28.9h32.6z"/>
<path d="M483.6 1541.7l-16.3 -28.9h32.6z"/>
<path d="M491.4 1541.2l-16.3 -28.9h32.6z"/>
<path d="M499.3 1540.8l-16.3 -28.9h32.6z"/>
<path d="M507.2 1540.3l-16.3 -28.9h32.6z"/>
<path d="M515 1539.9l-16.3 -28.9h32.6z"/>
<path d="M522.9 1539.5l-16.3 -28.9h32.6z"/>
<path d="M530.8 1539l-16.3 -28.9h32.6z"/>
<path d="M538.6 1538.5l-16.3 -28.9h32.6z"/>
<path d="M546.5 1537.9l-16.3 -28.9h32.6z"/>
<path d="M554.4 1537.2l-16.3 -28.9h32.6z"/>
<path d="M562.2 1536.5l-16.3 -28.9h32.6z"/>
<path d="M570.1 1535.8l-16.3 -28.9h32.6z"/>
<path d="M578 1535l-16.3 -28.9h32.6z"/>
<path d="M585.9 1534.2l-16.3 -28.9h32.6z"/>
<path d="M593.7 1533.4l-16.3 -28.9h32.6z"/>
<path d="M601.6 1532.6l-16.3 -28.9h32.6z"/>
<path d="M609.5 1531.9l-16.3 -28.9h32.6z"/>
<path d="M617.3 1531.1l-16.3 -28.9h32.6z"/>
<path d="M625.2 1530.4l-16.3 -28.9h32.6z"/>
<path d="M633.1 1529.6l-16.3 -28.9h32.6z"/>
<path d="M641 1528.9l-16.3 -28.9h32.6z"/>
<path d="M648.8 1528.2l-16.3 -28.9h32.6z"/>
<path d="M656.7 1527.6l-16.3 -28.9h32.6z"/>
<path d="M664.6 1527l-16.3 -28.9h32.6z"/>
<path d="M672.4 1526.4l-16.3 -28.9h32.6z"/>
<path d="M680.3 1525.8l-16.3 -28.9h32.6z"/>
<path d="M688.2 1525.2l-16.3 -28.9h32.6z"/>
<path d="M696 1524.7l-16.3 -28.9h32.6z"/>
<path d="M703.9 1524.1l-16.3 -28.9h32.6z"/>
<path d="M711.8 1523.5l-16.3 -28.9h32.6z"/>
<path d="M719.7 1522.8l-16.3 -28.9h32.6z"/>
<path d="M727.5 1522.2l-16.3 -28.9h32.6z"/>
<path d="M735.4 1521.5l-16.3 -28.9h32.6z"/>
<path d="M743.3 1520.7l-16.3 -28.9h32.6z"/>
<path d="M751.1 1519.9l-16.3 -28.9h32.6z"/>
<path d="M759 1519.1l-16.3 -28.9h32.6z"/>
<path d="M766.9 1518.2l-16.3 -28.9h32.6z"/>
<path d="M774.7 1517.3l-16.3 -28.9h32.6z"/>
<path d="M782.6 1516.4l-16.3 -28.9h32.6z"/>
<path d="M790.5 1515.4l-16.3 -28.9h32.6z"/>
<path d="M798.4 1514.4l-16.3 -28.9h32.6z"/>
<path d="M806.2 1513.3l-16.3 -28.9h32.6z"/>
<path d="M814.1 1512.2l-16.3 -28.9h32.6z"/>
<path d="M822 1511.1l-16.3 -28.9h32.6z"/>
<path d="M829.8 1509.9l-16.3 -28.9h32.6z"/>
<path d="M837.7 1508.7l-16.3 -28.9h32.6z"/>
<path d="M845.6 1507.5l-16.3 -28.9h32.6z"/>
<path d="M853.4 1506.2l-16.3 -28.9h32.6z"/>
<path d="M861.3 1504.9l-16.3 -28.9h32.6z"/>
<path d="M869.2 1503.5l-16.3 -28.9h32.6z"/>
<path d="M877.1 1502.1l-16.3 -28.9h32.6z"/>
<path d="M884.9 1500.4l-16.3 -28.9h32.6z"/>
<path d="M892.8 1498.4l-16.3 -28.9h32.6z"/>
<path d="M900.7 1495.4l-16.3 -28.9h32.6z"/>
<path d="M908.5 1491.4l-16.3 -28.9h32.6z"/>
<path d="M916.4 1485.9l-16.3 -28.9h32.6z"/>
<path d="M924.3 1480l-16.3 -28.9h32.6z"/>
<path d="M932.1 1471.6l-16.3 -28.9h32.6z"/>
<path d="M940 1463.5l-16.3 -28.9h32.6z"/>
<path d="M947.9 1454.2l-16.3 -28.9h32.6z"/>
<path d="M955.8 1441.8l-16.3 -28.9h32.6z"/>
<path d="M963.6 1430.2l-16.3 -28.9h32.6z"/>
<path d="M971.5 1414.6l-16.3 -28.9h32.6z"/>
<path d="M979.4 1398.2l-16.3 -28.9h32.6z"/>
<path d="M987.2 1379l-16.3 -28.9h32.6z"/>
<path d="M995.1 1360l-16.3 -28.9h32.6z"/>
<path d="M1003 1331.9l-16.3 -28.9h32.6z"/>
<path d="M1010.8 1305.9l-16.3 -28.9h32.6z"/>
<path d="M1018.7 1279l-16.3 -28.9h32.6z"/>
<path d="M1026.6 1248.4l-16.3 -28.9h32.6z"/>
<path d="M1034.5 1217.4l-16.3 -28.9h32.6z"/>
<path d="M1042.3 1180.8l-16.3 -28.9h32.6z"/>
<path d="M1050.2 1146.4l-16.3 -28.9h32.6z"/>
<path d="M1058.1 1111.5l-16.3 -28.9h32.6z"/>
<path d="M1065.9 1076.6l-16.3 -28.9h32.6z"/>
<path d="M1073.8 1039.5l-16.3 -28.9h32.6z"/>
<path d="M1081.7 1002.7l-16.3 -28.9h32.6z"/>
<path d="M1089.5 969.2l-16.3 -28.9h32.6z"/>
<path d="M1097.4 934.9l-16.3 -28.9h32.6z"/>
<path d="M1105.3 901.3l-16.3 -28.9h32.6z"/>
<path d="M1113.2 870.2l-16.3 -28.9h32.6z"/>
<path d="M1121 840.6l-16.3 -28.9h32.6z"/>
<path d="M1128.9 815.3l-16.3 -28.9h32.6z"/>
<path d="M1136.8 788.8l-16.3 -28.9h32.6z"/>
<path d="M1144.6 767.1l-16.3 -28.9h32.6z"/>
<path d="M1152.5 745l-16.3 -28.9h32.6z"/>
<path d="M1160.4 726.5l-16.3 -28.9h32.6z"/>
<path d="M1168.2 710.7l-16.3 -28.9h32.6z"/>
<path d="M1176.1 697.7l-16.3 -28.9h32.6z"/>
<path d="M1184 686.4l-16.3 -28.9h32.6z"/>
<path d="M1191.8 677.4l-16.3 -28.9h32.6z"/>
<path d="M1199.7 670.3l-16.3 -28.9h32.6z"/>
<path d="M1207.6 664.2l-16.3 -28.9h32.6z"/>
<path d="M1215.5 659.1l-16.3 -28.9h32.6z"/>
<path d="M1223.3 654.7l-16.3 -28.9h32.6z"/>
<path d="M1231.2 650.7l-16.3 -28.9h32.6z"/>
<path d="M1239.1 647.4l-16.3 -28.9h32.6z"/>
<path d="M1246.9 644.8l-16.3 -28.9h32.6z"/>
<path d="M1254.8 642.5l-16.3 -28.9h32.6z"/>
<path d="M1262.7 640.5l-16.3 -28.9h32.6z"/>
<path d="M1270.5 638.9l-16.3 -28.9h32.6z"/>
<path d="M1278.4 637.4l-16.3 -28.9h32.6z"/>
<path d="M1286.3 635.8l-16.3 -28.9h32.6z"/>
<path d="M1294.2 634.2l-16.3 -28.9h32.6z"/>
<path d="M1302 632.6l-16.3 -28.9h32.6z"/>
<path d="M1309.9 631.2l-16.3 -28.9h32.6z"/>
<path d="M1317.8 630l-16.3 -28.9h32.6z"/>
<path d="M1325.6 628.9l-16.3 -28.9h32.6z"/>
<path d="M1333.5 627.7l-16.3 -28.9h32.6z"/>
<path d="M1341.4 626.5l-16.3 -28.9h32.6z"/>
<path d="M1349.2 625.3l-16.3 -28.9h32.6z"/>
<path d="M1357.1 624l-16.3 -28.9h32.6z"/>
<path d="M1365 622.5l-16.3 -28.9h32.6z"/>
<path d="M1372.9 620.9l-16.3 -28.9h32.6z"/>
<path d="M1380.7 619.2l-16.3 -28.9h32.6z"/>
<path d="M1388.6 617.5l-16.3 -28.9h32.6z"/>
<path d="M1396.5 615.6l-16.3 -28.9h32.6z"/>
<path d="M1404.3 613.7l-16.3 -28.9h32.6z"/>
<path d="M1412.2 611.6l-16.3 -28.9h32.6z"/>
<path d="M1420.1 609.3l-16.3 -28.9h32.6z"/>
<path d="M1428 606.7l-16.3 -28.9h32.6z"/>
<path d="M1435.8 603.9l-16.3 -28.9h32.6z"/>
<path d="M1443.7 600.9l-16.3 -28.9h32.6z"/>
<path d="M1451.6 597.7l-16.3 -28.9h32.6z"/>
<path d="M1459.4 594.2l-16.3 -28.9h32.6z"/>
<path d="M1467.3 590.5l-16.3 -28.9h32.6z"/>
<path d="M1475.2 586.8l-16.3 -28.9h32.6z"/>
<path d="M1483 583.2l-16.3 -28.9h32.6z"/>
<path d="M1490.9 579.2l-16.3 -28.9h32.6z"/>
<path d="M1498.8 574.8l-16.3 -28.9h32.6z"/>
<path d="M1506.7 570.1l-16.3 -28.9h32.6z"/>
<path d="M1514.5 565l-16.3 -28.9h32.6z"/>
<path d="M1522.4 559.8l-16.3 -28.9h32.6z"/>
<path d="M1530.3 554.3l-16.3 -28.9h32.6z"/>
<path d="M1538.1 548.6l-16.3 -28.9h32.6z"/>
<path d="M1546 542.4l-16.3 -28.9h32.6z"/>
<path d="M1553.9 535.6l-16.3 -28.9h32.6z"/>
<path d="M1561.7 528l-16.3 -28.9h32.6z"/>
<path d="M1569.6 520l-16.3 -28.9h32.6z"/>
<path d="M1577.5 511.5l-16.3 -28.9h32.6z"/>
<path d="M1585.3 502.5l-16.3 -28.9h32.6z"/>
<path d="M1593.2 492.8l-16.3 -28.9h32.6z"/>
<path d="M1601.1 482.7l-16.3 -28.9h32.6z"/>
<path d="M1609 471.9l-16.3 -28.9h32.6z"/>
<path d="M1616.8 461l-16.3 -28.9h32.6z"/>
<path d="M1624.7 450.2l-16.3 -28.9h32.6z"/>
<path d="M1632.6 438.1l-16.3 -28.9h32.6z"/>
<path d="M1640.4 426.2l-16.3 -28.9h32.6z"/>
<path d="M1648.3 414.6l-16.3 -28.9h32.6z"/>
<path d="M1656.2 402.5l-16.3 -28.9h32.6z"/>
<path d="M1664.1 390.8l-16.3 -28.9h32.6z"/>
<path d="M1671.9 377.7l-16.3 -28.9h32.6z"/>
<path d="M1679.8 367.3l-16.3 -28.9h32.6z"/>
<path d="M1687.7 353.8l-16.3 -28.9h32.6z"/>
<path d="M1695.5 343l-16.3 -28.9h32.6z"/>
<path d="M1703.4 332.2l-16.3 -28.9h32.6z"/>
<path d="M1711.3 320.9l-16.3 -28.9h32.6z"/>
<path d="M1719.1 311.5l-16.3 -28.9h32.6z"/>
<path d="M1727 302.7l-16.3 -28.9h32.6z"/>
<path d="M1734.9 293.5l-16.3 -28.9h32.6z"/>
<path d="M1742.8 285.3l-16.3 -28.9h32.6z"/>
<path d="M1750.6 277l-16.3 -28.9h32.6z"/>
<path d="M1758.5 270.1l-16.3 -28.9h32.6z"/>
<path d="M1766.4 263.1l-16.3 -28.9h32.6z"/>
<path d="M1774.2 257.1l-16.3 -28.9h32.6z"/>
<path d="M1782.1 251.1l-16.3 -28.9h32.6z"/>
<path d="M1790 245.6l-16.3 -28.9h32.6z"/>
<path d="M1797.8 240.4l-16.3 -28.9h32.6z"/>
<path d="M1805.7 235.7l-16.3 -28.9h32.6z"/>
<path d="M1813.6 231.2l-16.3 -28.9h32.6z"/>
<path d="M1821.5 227.4l-16.3 -28.9h32.6z"/>
<path d="M1829.3 223.7l-16.3 -28.9h32.6z"/>
<path d="M1837.2 220.5l-16.3 -28.9h32.6z"/>
<path d="M1845.1 217.6l-16.3 -28.9h32.6z"/>
<path d="M1852.9 214.8l-16.3 -28.9h32.6z"/>
<path d="M1860.8 212.5l-16.3 -28.9h32.6z"/>
<path d="M1868.7 210.1l-16.3 -28.9h32.6z"/>
<path d="M1876.5 208.2l-16.3 -28.9h32.6z"/>
<path d="M1884.4 206.4l-16.3 -28.9h32.6z"/>
<path d="M1892.3 204.5l-16.3 -28.9h32.6z"/>
<path d="M1900.2 203.1l-16.3 -28.9h32.6z"/>
<path d="M1908 201.9l-16.3 -28.9h32.6z"/>
<path d="M1915.9 200.8l-16.3 -28.9h32.6z"/>
<path d="M1923.8 199.9l-16.3 -28.9h32.6z"/>
<path d="M1931.6 198.9l-16.3 -28.9h32.6z"/>
<path d="M1939.5 197.9l-16.3 -28.9h32.6z"/>
<path d="M1947.4 196.9l-16.3 -28.9h32.6z"/>
<path d="M1955.2 195.9l-16.3 -28.9h32.6z"/>
<path d="M1963.1 194.8l-16.3 -28.9h32.6z"/>
<path d="M1971 193.8l-16.3 -28.9h32.6z"/>
<path d="M1978.8 192.8l-16.3 -28.9h32.6z"/>
<path d="M1986.7 191.9l-16.3 -28.9h32.6z"/>
<path d="M1994.6 191l-16.3 -28.9h32.6z"/>
<path d="M2002.5 190.1l-16.3 -28.9h32.6z"/>
<path d="M2010.3 189.3l-16.3 -28.9h32.6z"/>
<path d="M2018.2 188.5l-16.3 -28.9h32.6z"/>
<path d="M2026.1 187.7l-16.3 -28.9h32.6z"/>
<path d="M2033.9 186.8l-16.3 -28.9h32.6z"/>
<path d="M2041.8 186l-16.3 -28.9h32.6z"/>
<path d="M2049.7 185.2l-16.3 -28.9h32.6z"/>
<path d="M2057.6 184.3l-16.3 -28.9h32.6z"/>
<path d="M2065.4 183.5l-16.3 -28.9h32.6z"/>
<path d="M2073.3 182.5l-16.3 -28.9h32.6z"/>
<path d="M2081.2 181.5l-16.3 -28.9h32.6z"/>
<path d="M2089 180.4l-16.3 -28.9h32.6z"/>
<path d="M2096.9 179.1l-16.3 -28.9h32.6z"/>
<path d="M2104.8 177.7l-16.3 -28.9h32.6z"/>
<path d="M2112.6 176.3l-16.3 -28.9h32.6z"/>
<path d="M2120.5 174.9l-16.3 -28.9h32.6z"/>
<path d="M2128.4 173.5l-16.3 -28.9h32.6z"/>
<path d="M2136.2 172.2l-16.3 -28.9h32.6z"/>
<path d="M2144.1 171l-16.3 -28.9h32.6z"/>
<path d="M2152 169.7l-16.3 -28.9h32.6z"/>
<path d="M2159.9 168.5l-16.3 -28.9h32.6z"/>
<path d="M2167.7 167.2l-16.3 -28.9h32.6z"/>
<path d="M2175.6 165.9l-16.3 -28.9h32.6z"/>
<path d="M2183.5 164.5l-16.3 -28.9h32.6z"/>
<path d="M2191.3 163l-16.3 -28.9h32.6z"/>
<path d="M2199.2 161.5l-16.3 -28.9h32.6z"/>
<path d="M2207.1 160l-16.3 -28.9h32.6z"/>
<path d="M2214.9 158.6l-16.3 -28.9h32.6z"/>
<path d="M2222.8 157.3l-16.3 -28.9h32.6z"/>
</g>
</svg>
<text transform="translate(244.3 1644.8) scale(0.975 1)" font-size="78" text-anchor="middle">400</text>
<text transform="translate(640.3 1644.8) scale(0.975 1)" font-size="78" text-anchor="middle">500</text>
<text transform="translate(1036.3 1644.8) scale(0.975 1)" font-size="78" text-anchor="middle">600</text>
<text transform="translate(1432.3 1644.8) scale(0.975 1)" font-size="78" text-anchor="middle">700</text>
<text transform="translate(1828.3 1644.8) scale(0.975 1)" font-size="78" text-anchor="middle">800</text>
<text transform="translate(2224.3 1644.8) scale(0.975 1)" font-size="78" text-anchor="middle">900</text>
<text transform="translate(195.6 1560) scale(0.975 1)" font-size="78" text-anchor="end">0.0</text>
<text transform="translate(195.6 1265.5) scale(0.975 1)" font-size="78" text-anchor="end">0.2</text>
<text transform="translate(195.6 971) scale(0.975 1)" font-size="78" text-anchor="end">0.4</text>
<text transform="translate(195.6 676.5) scale(0.975 1)" font-size="78" text-anchor="end">0.6</text>
<text transform="translate(195.6 382) scale(0.975 1)" font-size="78" text-anchor="end">0.8</text>
<text transform="translate(195.6 87.5) scale(0.975 1)" font-size="78" text-anchor="end">1.0</text>
<text transform="translate(1235.3 1760.2) scale(0.966 1)" font-size="79" text-anchor="middle">Temperature (K)</text>
<text transform="translate(60.3 802.7) rotate(-90) scale(0.95 1)" font-size="74" font-style="italic" text-anchor="middle">α</text>
<g stroke="#000000" stroke-width="5.2" stroke-linejoin="round" fill="#fff">
<path fill="none" stroke-linecap="round" stroke-width="5" d="M1499.5 951.5H1668.5"/>
<rect x="1571.8" y="939.8" width="23.5" height="23.5"/>
</g>
<text transform="translate(1684 975.9) scale(1.012 1)" font-size="62" text-anchor="start">10 K/min</text>
<g stroke="#ff0000" stroke-width="5.2" stroke-linejoin="round" fill="#fff">
<path fill="none" stroke-linecap="round" stroke-width="4.4" d="M1499.5 1045H1668.5"/>
<circle cx="1583.5" cy="1045" r="13.2"/>
</g>
<text transform="translate(1684 1069.4) scale(1.012 1)" font-size="62" text-anchor="start">20 K/min</text>
<g stroke="#0000ff" stroke-width="5.2" stroke-linejoin="round" fill="#fff">
<path fill="none" stroke-linecap="round" stroke-width="5" d="M1499.5 1138.5H1668.5"/>
<path d="M1583.5 1119.2l16.3 28.9h-32.6z"/>
</g>
<text transform="translate(1684 1162.9) scale(1.012 1)" font-size="62" text-anchor="start">30 K/min</text>
<g stroke="#ff00ff" stroke-width="5.2" stroke-linejoin="round" fill="#fff">
<path fill="none" stroke-linecap="round" stroke-width="4.4" d="M1499.5 1231.8H1668.5"/>
<path d="M1583.5 1251.1l-16.3 -28.9h32.6z"/>
</g>
<text transform="translate(1684 1256.2) scale(1.012 1)" font-size="62" text-anchor="start">60 K/min</text>
</svg></body></html>
